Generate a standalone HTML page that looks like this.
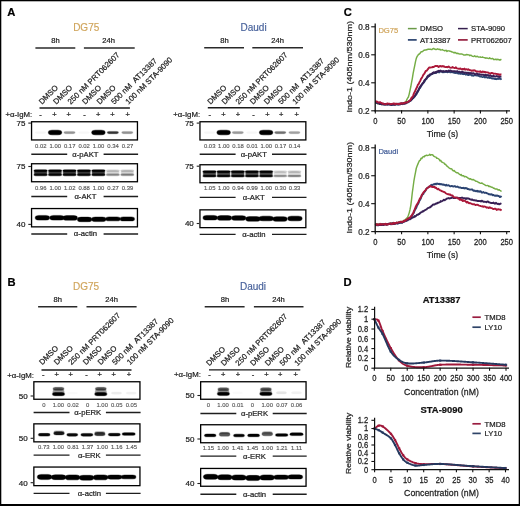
<!DOCTYPE html>
<html><head><meta charset="utf-8"><style>
html,body{margin:0;padding:0;background:#fff;}
svg{display:block;font-family:"Liberation Sans", sans-serif;-webkit-font-smoothing:antialiased;will-change:transform;}
text{stroke:currentColor;stroke-width:0.22px;}
text.v{stroke-width:0.15px;}
</style></head><body>
<svg width="520" height="506" viewBox="0 0 520 506">
<rect width="520" height="506" fill="#fff"/>
<defs><filter id="bl" x="-20%" y="-50%" width="140%" height="200%"><feGaussianBlur stdDeviation="0.8"/></filter></defs>
<text x="7.30" y="15.90" font-size="11.2" text-anchor="start" fill="#000" color="#000" font-weight="bold">A</text>
<text x="7.50" y="286.00" font-size="11.2" text-anchor="start" fill="#000" color="#000" font-weight="bold">B</text>
<text x="343.80" y="15.80" font-size="11.2" text-anchor="start" fill="#000" color="#000" font-weight="bold">C</text>
<text x="343.60" y="285.80" font-size="11.2" text-anchor="start" fill="#000" color="#000" font-weight="bold">D</text>
<text x="86.20" y="31.20" font-size="10.0" text-anchor="middle" fill="#d0a55c" color="#d0a55c" class="v">DG75</text>
<text x="55.40" y="43.10" font-size="7.6" text-anchor="middle" fill="#1e1e1e" color="#1e1e1e">8h</text>
<text x="108.70" y="43.10" font-size="7.6" text-anchor="middle" fill="#1e1e1e" color="#1e1e1e">24h</text>
<line x1="35.40" y1="48.00" x2="75.30" y2="48.00" stroke="#2a2a2a" stroke-width="1.4" stroke-linecap="butt"/>
<line x1="83.90" y1="48.00" x2="134.70" y2="48.00" stroke="#2a2a2a" stroke-width="1.4" stroke-linecap="butt"/>
<text x="41.90" y="104.80" font-size="7.8" text-anchor="start" fill="#1e1e1e" color="#1e1e1e" transform="rotate(-45 41.90 104.80)">DMSO</text>
<text x="56.35" y="104.80" font-size="7.8" text-anchor="start" fill="#1e1e1e" color="#1e1e1e" transform="rotate(-45 56.35 104.80)">DMSO</text>
<text x="70.80" y="104.80" font-size="7.8" text-anchor="start" fill="#1e1e1e" color="#1e1e1e" transform="rotate(-45 70.80 104.80)">250 nM PRT062607</text>
<text x="85.25" y="104.80" font-size="7.8" text-anchor="start" fill="#1e1e1e" color="#1e1e1e" transform="rotate(-45 85.25 104.80)">DMSO</text>
<text x="99.70" y="104.80" font-size="7.8" text-anchor="start" fill="#1e1e1e" color="#1e1e1e" transform="rotate(-45 99.70 104.80)">DMSO</text>
<text x="114.15" y="104.80" font-size="7.8" text-anchor="start" fill="#1e1e1e" color="#1e1e1e" transform="rotate(-45 114.15 104.80)">500 nM&#160;&#160;AT13387</text>
<text x="128.60" y="104.80" font-size="7.8" text-anchor="start" fill="#1e1e1e" color="#1e1e1e" transform="rotate(-45 128.60 104.80)">100 nM STA-9090</text>
<line x1="39.50" y1="108.00" x2="129.90" y2="108.00" stroke="#1a1a1a" stroke-width="1.4" stroke-linecap="butt"/>
<text x="5.40" y="116.80" font-size="7.8" text-anchor="start" fill="#1e1e1e" color="#1e1e1e">+&#945;-IgM:</text>
<text x="40.40" y="116.70" font-size="7.5" text-anchor="middle" fill="#1e1e1e" color="#1e1e1e">-</text>
<text x="54.50" y="116.70" font-size="7.5" text-anchor="middle" fill="#1e1e1e" color="#1e1e1e">+</text>
<text x="68.60" y="116.70" font-size="7.5" text-anchor="middle" fill="#1e1e1e" color="#1e1e1e">+</text>
<text x="84.40" y="116.70" font-size="7.5" text-anchor="middle" fill="#1e1e1e" color="#1e1e1e">-</text>
<text x="98.30" y="116.70" font-size="7.5" text-anchor="middle" fill="#1e1e1e" color="#1e1e1e">+</text>
<text x="112.40" y="116.70" font-size="7.5" text-anchor="middle" fill="#1e1e1e" color="#1e1e1e">+</text>
<text x="127.60" y="116.70" font-size="7.5" text-anchor="middle" fill="#1e1e1e" color="#1e1e1e">+</text>
<g>
<rect x="34.30" y="130.80" width="12.60" height="3.60" rx="2.88" ry="1.80" fill="rgba(0,0,0,0.004)"/>
<rect x="34.65" y="131.15" width="11.90" height="2.90" rx="2.32" ry="1.45" fill="rgba(0,0,0,0.007)"/>
<rect x="35.00" y="131.50" width="11.20" height="2.20" rx="1.76" ry="1.10" fill="rgba(0,0,0,0.025)"/>
<rect x="47.65" y="129.50" width="14.80" height="6.00" rx="4.80" ry="3.00" fill="rgba(0,0,0,0.180)"/>
<rect x="48.00" y="129.85" width="14.10" height="5.30" rx="4.24" ry="2.65" fill="rgba(0,0,0,0.300)"/>
<rect x="48.35" y="130.20" width="13.40" height="4.60" rx="3.68" ry="2.30" fill="rgba(0,0,0,1.000)"/>
<rect x="63.20" y="130.80" width="12.60" height="3.60" rx="2.88" ry="1.80" fill="rgba(0,0,0,0.058)"/>
<rect x="63.55" y="131.15" width="11.90" height="2.90" rx="2.32" ry="1.45" fill="rgba(0,0,0,0.096)"/>
<rect x="63.90" y="131.50" width="11.20" height="2.20" rx="1.76" ry="1.10" fill="rgba(0,0,0,0.320)"/>
<rect x="77.65" y="130.80" width="12.60" height="3.60" rx="2.88" ry="1.80" fill="rgba(0,0,0,0.004)"/>
<rect x="78.00" y="131.15" width="11.90" height="2.90" rx="2.32" ry="1.45" fill="rgba(0,0,0,0.006)"/>
<rect x="78.35" y="131.50" width="11.20" height="2.20" rx="1.76" ry="1.10" fill="rgba(0,0,0,0.020)"/>
<rect x="91.00" y="129.50" width="14.80" height="6.00" rx="4.80" ry="3.00" fill="rgba(0,0,0,0.180)"/>
<rect x="91.35" y="129.85" width="14.10" height="5.30" rx="4.24" ry="2.65" fill="rgba(0,0,0,0.300)"/>
<rect x="91.70" y="130.20" width="13.40" height="4.60" rx="3.68" ry="2.30" fill="rgba(0,0,0,1.000)"/>
<rect x="106.55" y="130.80" width="12.60" height="3.60" rx="2.88" ry="1.80" fill="rgba(0,0,0,0.126)"/>
<rect x="106.90" y="131.15" width="11.90" height="2.90" rx="2.32" ry="1.45" fill="rgba(0,0,0,0.210)"/>
<rect x="107.25" y="131.50" width="11.20" height="2.20" rx="1.76" ry="1.10" fill="rgba(0,0,0,0.700)"/>
<rect x="121.00" y="130.80" width="12.60" height="3.60" rx="2.88" ry="1.80" fill="rgba(0,0,0,0.059)"/>
<rect x="121.35" y="131.15" width="11.90" height="2.90" rx="2.32" ry="1.45" fill="rgba(0,0,0,0.099)"/>
<rect x="121.70" y="131.50" width="11.20" height="2.20" rx="1.76" ry="1.10" fill="rgba(0,0,0,0.330)"/>
</g>
<rect x="31.55" y="121.75" width="105.90" height="18.20" fill="none" stroke="#000" stroke-width="1.3"/>
<text x="25.40" y="125.90" font-size="8.0" text-anchor="end" fill="#222" color="#222">75</text>
<line x1="28.30" y1="123.10" x2="30.90" y2="123.10" stroke="#222" stroke-width="1.1" stroke-linecap="butt"/>
<text x="40.80" y="147.70" font-size="5.9" text-anchor="middle" fill="#5a5a5a" color="#5a5a5a" class="v">0.02</text>
<text x="55.25" y="147.70" font-size="5.9" text-anchor="middle" fill="#5a5a5a" color="#5a5a5a" class="v">1.00</text>
<text x="69.70" y="147.70" font-size="5.9" text-anchor="middle" fill="#5a5a5a" color="#5a5a5a" class="v">0.17</text>
<text x="84.15" y="147.70" font-size="5.9" text-anchor="middle" fill="#5a5a5a" color="#5a5a5a" class="v">0.02</text>
<text x="98.60" y="147.70" font-size="5.9" text-anchor="middle" fill="#5a5a5a" color="#5a5a5a" class="v">1.00</text>
<text x="113.05" y="147.70" font-size="5.9" text-anchor="middle" fill="#5a5a5a" color="#5a5a5a" class="v">0.34</text>
<text x="127.50" y="147.70" font-size="5.9" text-anchor="middle" fill="#5a5a5a" color="#5a5a5a" class="v">0.27</text>
<text x="85.40" y="156.70" font-size="7.7" text-anchor="middle" fill="#1e1e1e" color="#1e1e1e">&#945;-pAKT</text>
<line x1="31.30" y1="154.30" x2="67.20" y2="154.30" stroke="#1e1e1e" stroke-width="1.4" stroke-linecap="butt"/>
<line x1="103.60" y1="154.30" x2="138.10" y2="154.30" stroke="#1e1e1e" stroke-width="1.4" stroke-linecap="butt"/>
<g>
<rect x="33.50" y="169.80" width="14.20" height="6.00" rx="4.80" ry="3.00" fill="rgba(0,0,0,0.113)"/>
<rect x="33.85" y="170.15" width="13.50" height="5.30" rx="4.24" ry="2.65" fill="rgba(0,0,0,0.189)"/>
<rect x="34.20" y="170.50" width="12.80" height="4.60" rx="3.68" ry="2.30" fill="rgba(0,0,0,0.630)"/>
<rect x="33.20" y="169.10" width="14.80" height="3.40" rx="2.72" ry="1.70" fill="rgba(0,0,0,0.180)"/>
<rect x="33.55" y="169.45" width="14.10" height="2.70" rx="2.16" ry="1.35" fill="rgba(0,0,0,0.300)"/>
<rect x="33.90" y="169.80" width="13.40" height="2.00" rx="1.60" ry="1.00" fill="rgba(0,0,0,1.000)"/>
<rect x="33.20" y="173.10" width="14.80" height="3.40" rx="2.72" ry="1.70" fill="rgba(0,0,0,0.162)"/>
<rect x="33.55" y="173.45" width="14.10" height="2.70" rx="2.16" ry="1.35" fill="rgba(0,0,0,0.270)"/>
<rect x="33.90" y="173.80" width="13.40" height="2.00" rx="1.60" ry="1.00" fill="rgba(0,0,0,0.900)"/>
<rect x="47.95" y="169.80" width="14.20" height="6.00" rx="4.80" ry="3.00" fill="rgba(0,0,0,0.113)"/>
<rect x="48.30" y="170.15" width="13.50" height="5.30" rx="4.24" ry="2.65" fill="rgba(0,0,0,0.189)"/>
<rect x="48.65" y="170.50" width="12.80" height="4.60" rx="3.68" ry="2.30" fill="rgba(0,0,0,0.630)"/>
<rect x="47.65" y="169.10" width="14.80" height="3.40" rx="2.72" ry="1.70" fill="rgba(0,0,0,0.180)"/>
<rect x="48.00" y="169.45" width="14.10" height="2.70" rx="2.16" ry="1.35" fill="rgba(0,0,0,0.300)"/>
<rect x="48.35" y="169.80" width="13.40" height="2.00" rx="1.60" ry="1.00" fill="rgba(0,0,0,1.000)"/>
<rect x="47.65" y="173.10" width="14.80" height="3.40" rx="2.72" ry="1.70" fill="rgba(0,0,0,0.162)"/>
<rect x="48.00" y="173.45" width="14.10" height="2.70" rx="2.16" ry="1.35" fill="rgba(0,0,0,0.270)"/>
<rect x="48.35" y="173.80" width="13.40" height="2.00" rx="1.60" ry="1.00" fill="rgba(0,0,0,0.900)"/>
<rect x="62.40" y="169.80" width="14.20" height="6.00" rx="4.80" ry="3.00" fill="rgba(0,0,0,0.113)"/>
<rect x="62.75" y="170.15" width="13.50" height="5.30" rx="4.24" ry="2.65" fill="rgba(0,0,0,0.189)"/>
<rect x="63.10" y="170.50" width="12.80" height="4.60" rx="3.68" ry="2.30" fill="rgba(0,0,0,0.630)"/>
<rect x="62.10" y="169.10" width="14.80" height="3.40" rx="2.72" ry="1.70" fill="rgba(0,0,0,0.180)"/>
<rect x="62.45" y="169.45" width="14.10" height="2.70" rx="2.16" ry="1.35" fill="rgba(0,0,0,0.300)"/>
<rect x="62.80" y="169.80" width="13.40" height="2.00" rx="1.60" ry="1.00" fill="rgba(0,0,0,1.000)"/>
<rect x="62.10" y="173.10" width="14.80" height="3.40" rx="2.72" ry="1.70" fill="rgba(0,0,0,0.162)"/>
<rect x="62.45" y="173.45" width="14.10" height="2.70" rx="2.16" ry="1.35" fill="rgba(0,0,0,0.270)"/>
<rect x="62.80" y="173.80" width="13.40" height="2.00" rx="1.60" ry="1.00" fill="rgba(0,0,0,0.900)"/>
<rect x="76.85" y="169.80" width="14.20" height="6.00" rx="4.80" ry="3.00" fill="rgba(0,0,0,0.113)"/>
<rect x="77.20" y="170.15" width="13.50" height="5.30" rx="4.24" ry="2.65" fill="rgba(0,0,0,0.189)"/>
<rect x="77.55" y="170.50" width="12.80" height="4.60" rx="3.68" ry="2.30" fill="rgba(0,0,0,0.630)"/>
<rect x="76.55" y="169.10" width="14.80" height="3.40" rx="2.72" ry="1.70" fill="rgba(0,0,0,0.180)"/>
<rect x="76.90" y="169.45" width="14.10" height="2.70" rx="2.16" ry="1.35" fill="rgba(0,0,0,0.300)"/>
<rect x="77.25" y="169.80" width="13.40" height="2.00" rx="1.60" ry="1.00" fill="rgba(0,0,0,1.000)"/>
<rect x="76.55" y="173.10" width="14.80" height="3.40" rx="2.72" ry="1.70" fill="rgba(0,0,0,0.162)"/>
<rect x="76.90" y="173.45" width="14.10" height="2.70" rx="2.16" ry="1.35" fill="rgba(0,0,0,0.270)"/>
<rect x="77.25" y="173.80" width="13.40" height="2.00" rx="1.60" ry="1.00" fill="rgba(0,0,0,0.900)"/>
<rect x="91.30" y="169.80" width="14.20" height="6.00" rx="4.80" ry="3.00" fill="rgba(0,0,0,0.113)"/>
<rect x="91.65" y="170.15" width="13.50" height="5.30" rx="4.24" ry="2.65" fill="rgba(0,0,0,0.189)"/>
<rect x="92.00" y="170.50" width="12.80" height="4.60" rx="3.68" ry="2.30" fill="rgba(0,0,0,0.630)"/>
<rect x="91.00" y="169.10" width="14.80" height="3.40" rx="2.72" ry="1.70" fill="rgba(0,0,0,0.180)"/>
<rect x="91.35" y="169.45" width="14.10" height="2.70" rx="2.16" ry="1.35" fill="rgba(0,0,0,0.300)"/>
<rect x="91.70" y="169.80" width="13.40" height="2.00" rx="1.60" ry="1.00" fill="rgba(0,0,0,1.000)"/>
<rect x="91.00" y="173.10" width="14.80" height="3.40" rx="2.72" ry="1.70" fill="rgba(0,0,0,0.162)"/>
<rect x="91.35" y="173.45" width="14.10" height="2.70" rx="2.16" ry="1.35" fill="rgba(0,0,0,0.270)"/>
<rect x="91.70" y="173.80" width="13.40" height="2.00" rx="1.60" ry="1.00" fill="rgba(0,0,0,0.900)"/>
<rect x="105.75" y="169.80" width="14.20" height="6.00" rx="4.80" ry="3.00" fill="rgba(0,0,0,0.018)"/>
<rect x="106.10" y="170.15" width="13.50" height="5.30" rx="4.24" ry="2.65" fill="rgba(0,0,0,0.029)"/>
<rect x="106.45" y="170.50" width="12.80" height="4.60" rx="3.68" ry="2.30" fill="rgba(0,0,0,0.098)"/>
<rect x="105.45" y="169.10" width="14.80" height="3.40" rx="2.72" ry="1.70" fill="rgba(0,0,0,0.025)"/>
<rect x="105.80" y="169.45" width="14.10" height="2.70" rx="2.16" ry="1.35" fill="rgba(0,0,0,0.042)"/>
<rect x="106.15" y="169.80" width="13.40" height="2.00" rx="1.60" ry="1.00" fill="rgba(0,0,0,0.140)"/>
<rect x="105.45" y="173.10" width="14.80" height="3.40" rx="2.72" ry="1.70" fill="rgba(0,0,0,0.054)"/>
<rect x="105.80" y="173.45" width="14.10" height="2.70" rx="2.16" ry="1.35" fill="rgba(0,0,0,0.090)"/>
<rect x="106.15" y="173.80" width="13.40" height="2.00" rx="1.60" ry="1.00" fill="rgba(0,0,0,0.300)"/>
<rect x="120.20" y="169.80" width="14.20" height="6.00" rx="4.80" ry="3.00" fill="rgba(0,0,0,0.019)"/>
<rect x="120.55" y="170.15" width="13.50" height="5.30" rx="4.24" ry="2.65" fill="rgba(0,0,0,0.032)"/>
<rect x="120.90" y="170.50" width="12.80" height="4.60" rx="3.68" ry="2.30" fill="rgba(0,0,0,0.105)"/>
<rect x="119.90" y="169.10" width="14.80" height="3.40" rx="2.72" ry="1.70" fill="rgba(0,0,0,0.027)"/>
<rect x="120.25" y="169.45" width="14.10" height="2.70" rx="2.16" ry="1.35" fill="rgba(0,0,0,0.045)"/>
<rect x="120.60" y="169.80" width="13.40" height="2.00" rx="1.60" ry="1.00" fill="rgba(0,0,0,0.150)"/>
<rect x="119.90" y="173.10" width="14.80" height="3.40" rx="2.72" ry="1.70" fill="rgba(0,0,0,0.059)"/>
<rect x="120.25" y="173.45" width="14.10" height="2.70" rx="2.16" ry="1.35" fill="rgba(0,0,0,0.099)"/>
<rect x="120.60" y="173.80" width="13.40" height="2.00" rx="1.60" ry="1.00" fill="rgba(0,0,0,0.330)"/>
</g>
<rect x="31.55" y="163.75" width="105.90" height="18.00" fill="none" stroke="#000" stroke-width="1.3"/>
<text x="25.40" y="169.30" font-size="8.0" text-anchor="end" fill="#222" color="#222">75</text>
<line x1="28.30" y1="166.50" x2="30.90" y2="166.50" stroke="#222" stroke-width="1.1" stroke-linecap="butt"/>
<text x="40.80" y="189.70" font-size="5.9" text-anchor="middle" fill="#5a5a5a" color="#5a5a5a" class="v">0.96</text>
<text x="55.25" y="189.70" font-size="5.9" text-anchor="middle" fill="#5a5a5a" color="#5a5a5a" class="v">1.00</text>
<text x="69.70" y="189.70" font-size="5.9" text-anchor="middle" fill="#5a5a5a" color="#5a5a5a" class="v">1.02</text>
<text x="84.15" y="189.70" font-size="5.9" text-anchor="middle" fill="#5a5a5a" color="#5a5a5a" class="v">0.88</text>
<text x="98.60" y="189.70" font-size="5.9" text-anchor="middle" fill="#5a5a5a" color="#5a5a5a" class="v">1.00</text>
<text x="113.05" y="189.70" font-size="5.9" text-anchor="middle" fill="#5a5a5a" color="#5a5a5a" class="v">0.27</text>
<text x="127.50" y="189.70" font-size="5.9" text-anchor="middle" fill="#5a5a5a" color="#5a5a5a" class="v">0.39</text>
<text x="85.40" y="198.90" font-size="7.7" text-anchor="middle" fill="#1e1e1e" color="#1e1e1e">&#945;-AKT</text>
<line x1="31.30" y1="196.50" x2="67.20" y2="196.50" stroke="#1e1e1e" stroke-width="1.4" stroke-linecap="butt"/>
<line x1="103.60" y1="196.50" x2="138.10" y2="196.50" stroke="#1e1e1e" stroke-width="1.4" stroke-linecap="butt"/>
<g>
<rect x="34.50" y="214.80" width="15.80" height="6.00" rx="4.80" ry="3.00" fill="rgba(0,0,0,0.180)"/>
<rect x="34.85" y="215.15" width="15.10" height="5.30" rx="4.24" ry="2.65" fill="rgba(0,0,0,0.300)"/>
<rect x="35.20" y="215.50" width="14.40" height="4.60" rx="3.68" ry="2.30" fill="rgba(0,0,0,1.000)"/>
<rect x="49.10" y="214.80" width="15.80" height="6.00" rx="4.80" ry="3.00" fill="rgba(0,0,0,0.180)"/>
<rect x="49.45" y="215.15" width="15.10" height="5.30" rx="4.24" ry="2.65" fill="rgba(0,0,0,0.300)"/>
<rect x="49.80" y="215.50" width="14.40" height="4.60" rx="3.68" ry="2.30" fill="rgba(0,0,0,1.000)"/>
<rect x="62.30" y="214.90" width="15.80" height="6.00" rx="4.80" ry="3.00" fill="rgba(0,0,0,0.180)"/>
<rect x="62.65" y="215.25" width="15.10" height="5.30" rx="4.24" ry="2.65" fill="rgba(0,0,0,0.300)"/>
<rect x="63.00" y="215.60" width="14.40" height="4.60" rx="3.68" ry="2.30" fill="rgba(0,0,0,1.000)"/>
<rect x="76.70" y="216.40" width="15.80" height="6.00" rx="4.80" ry="3.00" fill="rgba(0,0,0,0.180)"/>
<rect x="77.05" y="216.75" width="15.10" height="5.30" rx="4.24" ry="2.65" fill="rgba(0,0,0,0.300)"/>
<rect x="77.40" y="217.10" width="14.40" height="4.60" rx="3.68" ry="2.30" fill="rgba(0,0,0,1.000)"/>
<rect x="90.90" y="216.30" width="15.80" height="6.00" rx="4.80" ry="3.00" fill="rgba(0,0,0,0.180)"/>
<rect x="91.25" y="216.65" width="15.10" height="5.30" rx="4.24" ry="2.65" fill="rgba(0,0,0,0.300)"/>
<rect x="91.60" y="217.00" width="14.40" height="4.60" rx="3.68" ry="2.30" fill="rgba(0,0,0,1.000)"/>
<rect x="105.10" y="216.25" width="15.80" height="5.30" rx="4.24" ry="2.65" fill="rgba(0,0,0,0.180)"/>
<rect x="105.45" y="216.60" width="15.10" height="4.60" rx="3.68" ry="2.30" fill="rgba(0,0,0,0.300)"/>
<rect x="105.80" y="216.95" width="14.40" height="3.90" rx="3.12" ry="1.95" fill="rgba(0,0,0,1.000)"/>
<rect x="119.40" y="216.20" width="15.80" height="5.40" rx="4.32" ry="2.70" fill="rgba(0,0,0,0.180)"/>
<rect x="119.75" y="216.55" width="15.10" height="4.70" rx="3.76" ry="2.35" fill="rgba(0,0,0,0.300)"/>
<rect x="120.10" y="216.90" width="14.40" height="4.00" rx="3.20" ry="2.00" fill="rgba(0,0,0,1.000)"/>
</g>
<rect x="31.55" y="208.55" width="105.90" height="18.30" fill="none" stroke="#000" stroke-width="1.3"/>
<text x="25.40" y="227.20" font-size="8.0" text-anchor="end" fill="#222" color="#222">40</text>
<line x1="28.30" y1="224.40" x2="30.90" y2="224.40" stroke="#222" stroke-width="1.1" stroke-linecap="butt"/>
<text x="85.40" y="236.40" font-size="7.7" text-anchor="middle" fill="#1e1e1e" color="#1e1e1e">&#945;-actin</text>
<line x1="31.30" y1="234.00" x2="67.20" y2="234.00" stroke="#1e1e1e" stroke-width="1.4" stroke-linecap="butt"/>
<line x1="103.60" y1="234.00" x2="138.10" y2="234.00" stroke="#1e1e1e" stroke-width="1.4" stroke-linecap="butt"/>
<text x="253.60" y="30.80" font-size="10.0" text-anchor="middle" fill="#46609a" color="#46609a" class="v">Daudi</text>
<text x="224.50" y="42.80" font-size="7.6" text-anchor="middle" fill="#1e1e1e" color="#1e1e1e">8h</text>
<text x="277.60" y="42.80" font-size="7.6" text-anchor="middle" fill="#1e1e1e" color="#1e1e1e">24h</text>
<line x1="204.20" y1="47.80" x2="244.00" y2="47.80" stroke="#2a2a2a" stroke-width="1.4" stroke-linecap="butt"/>
<line x1="252.30" y1="47.80" x2="303.00" y2="47.80" stroke="#2a2a2a" stroke-width="1.4" stroke-linecap="butt"/>
<text x="210.50" y="104.80" font-size="7.8" text-anchor="start" fill="#1e1e1e" color="#1e1e1e" transform="rotate(-45 210.50 104.80)">DMSO</text>
<text x="224.65" y="104.80" font-size="7.8" text-anchor="start" fill="#1e1e1e" color="#1e1e1e" transform="rotate(-45 224.65 104.80)">DMSO</text>
<text x="238.80" y="104.80" font-size="7.8" text-anchor="start" fill="#1e1e1e" color="#1e1e1e" transform="rotate(-45 238.80 104.80)">250 nM PRT062607</text>
<text x="252.95" y="104.80" font-size="7.8" text-anchor="start" fill="#1e1e1e" color="#1e1e1e" transform="rotate(-45 252.95 104.80)">DMSO</text>
<text x="267.10" y="104.80" font-size="7.8" text-anchor="start" fill="#1e1e1e" color="#1e1e1e" transform="rotate(-45 267.10 104.80)">DMSO</text>
<text x="281.25" y="104.80" font-size="7.8" text-anchor="start" fill="#1e1e1e" color="#1e1e1e" transform="rotate(-45 281.25 104.80)">500 nM&#160;&#160;AT13387</text>
<text x="295.40" y="104.80" font-size="7.8" text-anchor="start" fill="#1e1e1e" color="#1e1e1e" transform="rotate(-45 295.40 104.80)">100 nM STA-9090</text>
<line x1="207.80" y1="107.80" x2="299.80" y2="107.80" stroke="#1a1a1a" stroke-width="1.4" stroke-linecap="butt"/>
<text x="173.30" y="116.80" font-size="7.8" text-anchor="start" fill="#1e1e1e" color="#1e1e1e">+&#945;-IgM:</text>
<text x="209.80" y="116.70" font-size="7.5" text-anchor="middle" fill="#1e1e1e" color="#1e1e1e">-</text>
<text x="223.50" y="116.70" font-size="7.5" text-anchor="middle" fill="#1e1e1e" color="#1e1e1e">+</text>
<text x="237.90" y="116.70" font-size="7.5" text-anchor="middle" fill="#1e1e1e" color="#1e1e1e">+</text>
<text x="253.60" y="116.70" font-size="7.5" text-anchor="middle" fill="#1e1e1e" color="#1e1e1e">-</text>
<text x="267.40" y="116.70" font-size="7.5" text-anchor="middle" fill="#1e1e1e" color="#1e1e1e">+</text>
<text x="281.20" y="116.70" font-size="7.5" text-anchor="middle" fill="#1e1e1e" color="#1e1e1e">+</text>
<text x="296.60" y="116.70" font-size="7.5" text-anchor="middle" fill="#1e1e1e" color="#1e1e1e">+</text>
<g>
<rect x="203.20" y="130.80" width="12.60" height="3.60" rx="2.88" ry="1.80" fill="rgba(0,0,0,0.004)"/>
<rect x="203.55" y="131.15" width="11.90" height="2.90" rx="2.32" ry="1.45" fill="rgba(0,0,0,0.007)"/>
<rect x="203.90" y="131.50" width="11.20" height="2.20" rx="1.76" ry="1.10" fill="rgba(0,0,0,0.025)"/>
<rect x="216.25" y="129.50" width="14.80" height="6.00" rx="4.80" ry="3.00" fill="rgba(0,0,0,0.180)"/>
<rect x="216.60" y="129.85" width="14.10" height="5.30" rx="4.24" ry="2.65" fill="rgba(0,0,0,0.300)"/>
<rect x="216.95" y="130.20" width="13.40" height="4.60" rx="3.68" ry="2.30" fill="rgba(0,0,0,1.000)"/>
<rect x="231.50" y="130.80" width="12.60" height="3.60" rx="2.88" ry="1.80" fill="rgba(0,0,0,0.054)"/>
<rect x="231.85" y="131.15" width="11.90" height="2.90" rx="2.32" ry="1.45" fill="rgba(0,0,0,0.090)"/>
<rect x="232.20" y="131.50" width="11.20" height="2.20" rx="1.76" ry="1.10" fill="rgba(0,0,0,0.300)"/>
<rect x="245.65" y="130.80" width="12.60" height="3.60" rx="2.88" ry="1.80" fill="rgba(0,0,0,0.004)"/>
<rect x="246.00" y="131.15" width="11.90" height="2.90" rx="2.32" ry="1.45" fill="rgba(0,0,0,0.007)"/>
<rect x="246.35" y="131.50" width="11.20" height="2.20" rx="1.76" ry="1.10" fill="rgba(0,0,0,0.025)"/>
<rect x="258.70" y="129.50" width="14.80" height="6.00" rx="4.80" ry="3.00" fill="rgba(0,0,0,0.180)"/>
<rect x="259.05" y="129.85" width="14.10" height="5.30" rx="4.24" ry="2.65" fill="rgba(0,0,0,0.300)"/>
<rect x="259.40" y="130.20" width="13.40" height="4.60" rx="3.68" ry="2.30" fill="rgba(0,0,0,1.000)"/>
<rect x="273.95" y="130.80" width="12.60" height="3.60" rx="2.88" ry="1.80" fill="rgba(0,0,0,0.081)"/>
<rect x="274.30" y="131.15" width="11.90" height="2.90" rx="2.32" ry="1.45" fill="rgba(0,0,0,0.135)"/>
<rect x="274.65" y="131.50" width="11.20" height="2.20" rx="1.76" ry="1.10" fill="rgba(0,0,0,0.450)"/>
<rect x="288.10" y="130.80" width="12.60" height="3.60" rx="2.88" ry="1.80" fill="rgba(0,0,0,0.050)"/>
<rect x="288.45" y="131.15" width="11.90" height="2.90" rx="2.32" ry="1.45" fill="rgba(0,0,0,0.084)"/>
<rect x="288.80" y="131.50" width="11.20" height="2.20" rx="1.76" ry="1.10" fill="rgba(0,0,0,0.280)"/>
</g>
<rect x="199.95" y="121.75" width="105.90" height="18.20" fill="none" stroke="#000" stroke-width="1.3"/>
<text x="193.80" y="125.90" font-size="8.0" text-anchor="end" fill="#222" color="#222">75</text>
<line x1="196.70" y1="123.10" x2="199.30" y2="123.10" stroke="#222" stroke-width="1.1" stroke-linecap="butt"/>
<text x="209.70" y="147.70" font-size="5.9" text-anchor="middle" fill="#5a5a5a" color="#5a5a5a" class="v">0.03</text>
<text x="223.85" y="147.70" font-size="5.9" text-anchor="middle" fill="#5a5a5a" color="#5a5a5a" class="v">1.00</text>
<text x="238.00" y="147.70" font-size="5.9" text-anchor="middle" fill="#5a5a5a" color="#5a5a5a" class="v">0.18</text>
<text x="252.15" y="147.70" font-size="5.9" text-anchor="middle" fill="#5a5a5a" color="#5a5a5a" class="v">0.01</text>
<text x="266.30" y="147.70" font-size="5.9" text-anchor="middle" fill="#5a5a5a" color="#5a5a5a" class="v">1.00</text>
<text x="280.45" y="147.70" font-size="5.9" text-anchor="middle" fill="#5a5a5a" color="#5a5a5a" class="v">0.17</text>
<text x="294.60" y="147.70" font-size="5.9" text-anchor="middle" fill="#5a5a5a" color="#5a5a5a" class="v">0.14</text>
<text x="253.80" y="156.60" font-size="7.7" text-anchor="middle" fill="#1e1e1e" color="#1e1e1e">&#945;-pAKT</text>
<line x1="199.70" y1="154.20" x2="235.60" y2="154.20" stroke="#1e1e1e" stroke-width="1.4" stroke-linecap="butt"/>
<line x1="272.00" y1="154.20" x2="306.50" y2="154.20" stroke="#1e1e1e" stroke-width="1.4" stroke-linecap="butt"/>
<g>
<rect x="202.40" y="170.70" width="14.20" height="6.40" rx="5.12" ry="3.20" fill="rgba(0,0,0,0.107)"/>
<rect x="202.75" y="171.05" width="13.50" height="5.70" rx="4.56" ry="2.85" fill="rgba(0,0,0,0.178)"/>
<rect x="203.10" y="171.40" width="12.80" height="5.00" rx="4.00" ry="2.50" fill="rgba(0,0,0,0.595)"/>
<rect x="202.10" y="170.00" width="14.80" height="3.40" rx="2.72" ry="1.70" fill="rgba(0,0,0,0.180)"/>
<rect x="202.45" y="170.35" width="14.10" height="2.70" rx="2.16" ry="1.35" fill="rgba(0,0,0,0.300)"/>
<rect x="202.80" y="170.70" width="13.40" height="2.00" rx="1.60" ry="1.00" fill="rgba(0,0,0,1.000)"/>
<rect x="202.10" y="174.40" width="14.80" height="3.40" rx="2.72" ry="1.70" fill="rgba(0,0,0,0.153)"/>
<rect x="202.45" y="174.75" width="14.10" height="2.70" rx="2.16" ry="1.35" fill="rgba(0,0,0,0.255)"/>
<rect x="202.80" y="175.10" width="13.40" height="2.00" rx="1.60" ry="1.00" fill="rgba(0,0,0,0.850)"/>
<rect x="216.55" y="170.70" width="14.20" height="6.40" rx="5.12" ry="3.20" fill="rgba(0,0,0,0.107)"/>
<rect x="216.90" y="171.05" width="13.50" height="5.70" rx="4.56" ry="2.85" fill="rgba(0,0,0,0.178)"/>
<rect x="217.25" y="171.40" width="12.80" height="5.00" rx="4.00" ry="2.50" fill="rgba(0,0,0,0.595)"/>
<rect x="216.25" y="170.00" width="14.80" height="3.40" rx="2.72" ry="1.70" fill="rgba(0,0,0,0.180)"/>
<rect x="216.60" y="170.35" width="14.10" height="2.70" rx="2.16" ry="1.35" fill="rgba(0,0,0,0.300)"/>
<rect x="216.95" y="170.70" width="13.40" height="2.00" rx="1.60" ry="1.00" fill="rgba(0,0,0,1.000)"/>
<rect x="216.25" y="174.40" width="14.80" height="3.40" rx="2.72" ry="1.70" fill="rgba(0,0,0,0.153)"/>
<rect x="216.60" y="174.75" width="14.10" height="2.70" rx="2.16" ry="1.35" fill="rgba(0,0,0,0.255)"/>
<rect x="216.95" y="175.10" width="13.40" height="2.00" rx="1.60" ry="1.00" fill="rgba(0,0,0,0.850)"/>
<rect x="230.70" y="170.70" width="14.20" height="6.40" rx="5.12" ry="3.20" fill="rgba(0,0,0,0.107)"/>
<rect x="231.05" y="171.05" width="13.50" height="5.70" rx="4.56" ry="2.85" fill="rgba(0,0,0,0.178)"/>
<rect x="231.40" y="171.40" width="12.80" height="5.00" rx="4.00" ry="2.50" fill="rgba(0,0,0,0.595)"/>
<rect x="230.40" y="170.00" width="14.80" height="3.40" rx="2.72" ry="1.70" fill="rgba(0,0,0,0.180)"/>
<rect x="230.75" y="170.35" width="14.10" height="2.70" rx="2.16" ry="1.35" fill="rgba(0,0,0,0.300)"/>
<rect x="231.10" y="170.70" width="13.40" height="2.00" rx="1.60" ry="1.00" fill="rgba(0,0,0,1.000)"/>
<rect x="230.40" y="174.40" width="14.80" height="3.40" rx="2.72" ry="1.70" fill="rgba(0,0,0,0.153)"/>
<rect x="230.75" y="174.75" width="14.10" height="2.70" rx="2.16" ry="1.35" fill="rgba(0,0,0,0.255)"/>
<rect x="231.10" y="175.10" width="13.40" height="2.00" rx="1.60" ry="1.00" fill="rgba(0,0,0,0.850)"/>
<rect x="244.85" y="170.70" width="14.20" height="6.40" rx="5.12" ry="3.20" fill="rgba(0,0,0,0.107)"/>
<rect x="245.20" y="171.05" width="13.50" height="5.70" rx="4.56" ry="2.85" fill="rgba(0,0,0,0.178)"/>
<rect x="245.55" y="171.40" width="12.80" height="5.00" rx="4.00" ry="2.50" fill="rgba(0,0,0,0.595)"/>
<rect x="244.55" y="170.00" width="14.80" height="3.40" rx="2.72" ry="1.70" fill="rgba(0,0,0,0.180)"/>
<rect x="244.90" y="170.35" width="14.10" height="2.70" rx="2.16" ry="1.35" fill="rgba(0,0,0,0.300)"/>
<rect x="245.25" y="170.70" width="13.40" height="2.00" rx="1.60" ry="1.00" fill="rgba(0,0,0,1.000)"/>
<rect x="244.55" y="174.40" width="14.80" height="3.40" rx="2.72" ry="1.70" fill="rgba(0,0,0,0.153)"/>
<rect x="244.90" y="174.75" width="14.10" height="2.70" rx="2.16" ry="1.35" fill="rgba(0,0,0,0.255)"/>
<rect x="245.25" y="175.10" width="13.40" height="2.00" rx="1.60" ry="1.00" fill="rgba(0,0,0,0.850)"/>
<rect x="259.00" y="170.70" width="14.20" height="6.40" rx="5.12" ry="3.20" fill="rgba(0,0,0,0.107)"/>
<rect x="259.35" y="171.05" width="13.50" height="5.70" rx="4.56" ry="2.85" fill="rgba(0,0,0,0.178)"/>
<rect x="259.70" y="171.40" width="12.80" height="5.00" rx="4.00" ry="2.50" fill="rgba(0,0,0,0.595)"/>
<rect x="258.70" y="170.00" width="14.80" height="3.40" rx="2.72" ry="1.70" fill="rgba(0,0,0,0.180)"/>
<rect x="259.05" y="170.35" width="14.10" height="2.70" rx="2.16" ry="1.35" fill="rgba(0,0,0,0.300)"/>
<rect x="259.40" y="170.70" width="13.40" height="2.00" rx="1.60" ry="1.00" fill="rgba(0,0,0,1.000)"/>
<rect x="258.70" y="174.40" width="14.80" height="3.40" rx="2.72" ry="1.70" fill="rgba(0,0,0,0.153)"/>
<rect x="259.05" y="174.75" width="14.10" height="2.70" rx="2.16" ry="1.35" fill="rgba(0,0,0,0.255)"/>
<rect x="259.40" y="175.10" width="13.40" height="2.00" rx="1.60" ry="1.00" fill="rgba(0,0,0,0.850)"/>
<rect x="273.15" y="170.70" width="14.20" height="6.40" rx="5.12" ry="3.20" fill="rgba(0,0,0,0.015)"/>
<rect x="273.50" y="171.05" width="13.50" height="5.70" rx="4.56" ry="2.85" fill="rgba(0,0,0,0.025)"/>
<rect x="273.85" y="171.40" width="12.80" height="5.00" rx="4.00" ry="2.50" fill="rgba(0,0,0,0.084)"/>
<rect x="272.85" y="170.00" width="14.80" height="3.40" rx="2.72" ry="1.70" fill="rgba(0,0,0,0.022)"/>
<rect x="273.20" y="170.35" width="14.10" height="2.70" rx="2.16" ry="1.35" fill="rgba(0,0,0,0.036)"/>
<rect x="273.55" y="170.70" width="13.40" height="2.00" rx="1.60" ry="1.00" fill="rgba(0,0,0,0.120)"/>
<rect x="272.85" y="174.40" width="14.80" height="3.40" rx="2.72" ry="1.70" fill="rgba(0,0,0,0.049)"/>
<rect x="273.20" y="174.75" width="14.10" height="2.70" rx="2.16" ry="1.35" fill="rgba(0,0,0,0.081)"/>
<rect x="273.55" y="175.10" width="13.40" height="2.00" rx="1.60" ry="1.00" fill="rgba(0,0,0,0.270)"/>
<rect x="287.30" y="170.70" width="14.20" height="6.40" rx="5.12" ry="3.20" fill="rgba(0,0,0,0.018)"/>
<rect x="287.65" y="171.05" width="13.50" height="5.70" rx="4.56" ry="2.85" fill="rgba(0,0,0,0.029)"/>
<rect x="288.00" y="171.40" width="12.80" height="5.00" rx="4.00" ry="2.50" fill="rgba(0,0,0,0.098)"/>
<rect x="287.00" y="170.00" width="14.80" height="3.40" rx="2.72" ry="1.70" fill="rgba(0,0,0,0.025)"/>
<rect x="287.35" y="170.35" width="14.10" height="2.70" rx="2.16" ry="1.35" fill="rgba(0,0,0,0.042)"/>
<rect x="287.70" y="170.70" width="13.40" height="2.00" rx="1.60" ry="1.00" fill="rgba(0,0,0,0.140)"/>
<rect x="287.00" y="174.40" width="14.80" height="3.40" rx="2.72" ry="1.70" fill="rgba(0,0,0,0.054)"/>
<rect x="287.35" y="174.75" width="14.10" height="2.70" rx="2.16" ry="1.35" fill="rgba(0,0,0,0.090)"/>
<rect x="287.70" y="175.10" width="13.40" height="2.00" rx="1.60" ry="1.00" fill="rgba(0,0,0,0.300)"/>
</g>
<rect x="199.95" y="164.75" width="105.90" height="18.00" fill="none" stroke="#000" stroke-width="1.3"/>
<text x="193.80" y="169.00" font-size="8.0" text-anchor="end" fill="#222" color="#222">75</text>
<line x1="196.70" y1="166.20" x2="199.30" y2="166.20" stroke="#222" stroke-width="1.1" stroke-linecap="butt"/>
<text x="209.70" y="190.10" font-size="5.9" text-anchor="middle" fill="#5a5a5a" color="#5a5a5a" class="v">1.05</text>
<text x="223.85" y="190.10" font-size="5.9" text-anchor="middle" fill="#5a5a5a" color="#5a5a5a" class="v">1.00</text>
<text x="238.00" y="190.10" font-size="5.9" text-anchor="middle" fill="#5a5a5a" color="#5a5a5a" class="v">0.94</text>
<text x="252.15" y="190.10" font-size="5.9" text-anchor="middle" fill="#5a5a5a" color="#5a5a5a" class="v">0.99</text>
<text x="266.30" y="190.10" font-size="5.9" text-anchor="middle" fill="#5a5a5a" color="#5a5a5a" class="v">1.00</text>
<text x="280.45" y="190.10" font-size="5.9" text-anchor="middle" fill="#5a5a5a" color="#5a5a5a" class="v">0.30</text>
<text x="294.60" y="190.10" font-size="5.9" text-anchor="middle" fill="#5a5a5a" color="#5a5a5a" class="v">0.33</text>
<text x="253.80" y="199.80" font-size="7.7" text-anchor="middle" fill="#1e1e1e" color="#1e1e1e">&#945;-AKT</text>
<line x1="199.70" y1="197.40" x2="235.60" y2="197.40" stroke="#1e1e1e" stroke-width="1.4" stroke-linecap="butt"/>
<line x1="272.00" y1="197.40" x2="306.50" y2="197.40" stroke="#1e1e1e" stroke-width="1.4" stroke-linecap="butt"/>
<g>
<rect x="202.30" y="214.70" width="15.80" height="6.00" rx="4.80" ry="3.00" fill="rgba(0,0,0,0.180)"/>
<rect x="202.65" y="215.05" width="15.10" height="5.30" rx="4.24" ry="2.65" fill="rgba(0,0,0,0.300)"/>
<rect x="203.00" y="215.40" width="14.40" height="4.60" rx="3.68" ry="2.30" fill="rgba(0,0,0,1.000)"/>
<rect x="216.50" y="214.90" width="15.80" height="6.00" rx="4.80" ry="3.00" fill="rgba(0,0,0,0.180)"/>
<rect x="216.85" y="215.25" width="15.10" height="5.30" rx="4.24" ry="2.65" fill="rgba(0,0,0,0.300)"/>
<rect x="217.20" y="215.60" width="14.40" height="4.60" rx="3.68" ry="2.30" fill="rgba(0,0,0,1.000)"/>
<rect x="230.80" y="215.00" width="15.80" height="6.00" rx="4.80" ry="3.00" fill="rgba(0,0,0,0.180)"/>
<rect x="231.15" y="215.35" width="15.10" height="5.30" rx="4.24" ry="2.65" fill="rgba(0,0,0,0.300)"/>
<rect x="231.50" y="215.70" width="14.40" height="4.60" rx="3.68" ry="2.30" fill="rgba(0,0,0,1.000)"/>
<rect x="245.10" y="215.90" width="15.80" height="6.00" rx="4.80" ry="3.00" fill="rgba(0,0,0,0.180)"/>
<rect x="245.45" y="216.25" width="15.10" height="5.30" rx="4.24" ry="2.65" fill="rgba(0,0,0,0.300)"/>
<rect x="245.80" y="216.60" width="14.40" height="4.60" rx="3.68" ry="2.30" fill="rgba(0,0,0,1.000)"/>
<rect x="258.30" y="215.50" width="15.80" height="6.00" rx="4.80" ry="3.00" fill="rgba(0,0,0,0.180)"/>
<rect x="258.65" y="215.85" width="15.10" height="5.30" rx="4.24" ry="2.65" fill="rgba(0,0,0,0.300)"/>
<rect x="259.00" y="216.20" width="14.40" height="4.60" rx="3.68" ry="2.30" fill="rgba(0,0,0,1.000)"/>
<rect x="272.10" y="216.00" width="15.80" height="6.00" rx="4.80" ry="3.00" fill="rgba(0,0,0,0.180)"/>
<rect x="272.45" y="216.35" width="15.10" height="5.30" rx="4.24" ry="2.65" fill="rgba(0,0,0,0.300)"/>
<rect x="272.80" y="216.70" width="14.40" height="4.60" rx="3.68" ry="2.30" fill="rgba(0,0,0,1.000)"/>
<rect x="287.00" y="215.50" width="15.80" height="6.00" rx="4.80" ry="3.00" fill="rgba(0,0,0,0.180)"/>
<rect x="287.35" y="215.85" width="15.10" height="5.30" rx="4.24" ry="2.65" fill="rgba(0,0,0,0.300)"/>
<rect x="287.70" y="216.20" width="14.40" height="4.60" rx="3.68" ry="2.30" fill="rgba(0,0,0,1.000)"/>
</g>
<rect x="199.95" y="209.85" width="105.90" height="17.80" fill="none" stroke="#000" stroke-width="1.3"/>
<text x="193.80" y="226.30" font-size="8.0" text-anchor="end" fill="#222" color="#222">40</text>
<line x1="196.70" y1="223.50" x2="199.30" y2="223.50" stroke="#222" stroke-width="1.1" stroke-linecap="butt"/>
<text x="253.80" y="236.80" font-size="7.7" text-anchor="middle" fill="#1e1e1e" color="#1e1e1e">&#945;-actin</text>
<line x1="199.70" y1="234.40" x2="235.60" y2="234.40" stroke="#1e1e1e" stroke-width="1.4" stroke-linecap="butt"/>
<line x1="272.00" y1="234.40" x2="306.50" y2="234.40" stroke="#1e1e1e" stroke-width="1.4" stroke-linecap="butt"/>
<text x="86.10" y="290.00" font-size="10.0" text-anchor="middle" fill="#d0a55c" color="#d0a55c" class="v">DG75</text>
<text x="57.70" y="301.90" font-size="7.6" text-anchor="middle" fill="#1e1e1e" color="#1e1e1e">8h</text>
<text x="111.60" y="301.90" font-size="7.6" text-anchor="middle" fill="#1e1e1e" color="#1e1e1e">24h</text>
<line x1="38.10" y1="306.80" x2="77.30" y2="306.80" stroke="#2a2a2a" stroke-width="1.4" stroke-linecap="butt"/>
<line x1="86.50" y1="306.80" x2="136.60" y2="306.80" stroke="#2a2a2a" stroke-width="1.4" stroke-linecap="butt"/>
<text x="42.30" y="365.30" font-size="7.8" text-anchor="start" fill="#1e1e1e" color="#1e1e1e" transform="rotate(-45 42.30 365.30)">DMSO</text>
<text x="56.90" y="365.30" font-size="7.8" text-anchor="start" fill="#1e1e1e" color="#1e1e1e" transform="rotate(-45 56.90 365.30)">DMSO</text>
<text x="71.50" y="365.30" font-size="7.8" text-anchor="start" fill="#1e1e1e" color="#1e1e1e" transform="rotate(-45 71.50 365.30)">250 nM PRT062607</text>
<text x="86.10" y="365.30" font-size="7.8" text-anchor="start" fill="#1e1e1e" color="#1e1e1e" transform="rotate(-45 86.10 365.30)">DMSO</text>
<text x="100.70" y="365.30" font-size="7.8" text-anchor="start" fill="#1e1e1e" color="#1e1e1e" transform="rotate(-45 100.70 365.30)">DMSO</text>
<text x="115.30" y="365.30" font-size="7.8" text-anchor="start" fill="#1e1e1e" color="#1e1e1e" transform="rotate(-45 115.30 365.30)">500 nM&#160;&#160;AT13387</text>
<text x="129.90" y="365.30" font-size="7.8" text-anchor="start" fill="#1e1e1e" color="#1e1e1e" transform="rotate(-45 129.90 365.30)">100 nM STA-9090</text>
<line x1="41.50" y1="370.00" x2="131.50" y2="370.00" stroke="#1a1a1a" stroke-width="1.4" stroke-linecap="butt"/>
<text x="7.20" y="377.50" font-size="7.8" text-anchor="start" fill="#1e1e1e" color="#1e1e1e">+&#945;-IgM:</text>
<text x="43.30" y="377.40" font-size="7.5" text-anchor="middle" fill="#1e1e1e" color="#1e1e1e">-</text>
<text x="56.60" y="377.40" font-size="7.5" text-anchor="middle" fill="#1e1e1e" color="#1e1e1e">+</text>
<text x="70.60" y="377.40" font-size="7.5" text-anchor="middle" fill="#1e1e1e" color="#1e1e1e">+</text>
<text x="86.40" y="377.40" font-size="7.5" text-anchor="middle" fill="#1e1e1e" color="#1e1e1e">-</text>
<text x="99.60" y="377.40" font-size="7.5" text-anchor="middle" fill="#1e1e1e" color="#1e1e1e">+</text>
<text x="113.60" y="377.40" font-size="7.5" text-anchor="middle" fill="#1e1e1e" color="#1e1e1e">+</text>
<text x="128.90" y="377.40" font-size="7.5" text-anchor="middle" fill="#1e1e1e" color="#1e1e1e">+</text>
<g>
<rect x="52.10" y="388.05" width="12.80" height="7.20" rx="5.76" ry="3.60" fill="rgba(0,0,0,0.050)"/>
<rect x="52.45" y="388.40" width="12.10" height="6.50" rx="5.20" ry="3.25" fill="rgba(0,0,0,0.084)"/>
<rect x="52.80" y="388.75" width="11.40" height="5.80" rx="4.64" ry="2.90" fill="rgba(0,0,0,0.280)"/>
<rect x="52.30" y="386.60" width="12.40" height="4.40" rx="3.52" ry="2.20" fill="rgba(0,0,0,0.099)"/>
<rect x="52.65" y="386.95" width="11.70" height="3.70" rx="2.96" ry="1.85" fill="rgba(0,0,0,0.165)"/>
<rect x="53.00" y="387.30" width="11.00" height="3.00" rx="2.40" ry="1.50" fill="rgba(0,0,0,0.550)"/>
<rect x="51.70" y="391.75" width="13.60" height="4.70" rx="3.76" ry="2.35" fill="rgba(0,0,0,0.180)"/>
<rect x="52.05" y="392.10" width="12.90" height="4.00" rx="3.20" ry="2.00" fill="rgba(0,0,0,0.300)"/>
<rect x="52.40" y="392.45" width="12.20" height="3.30" rx="2.64" ry="1.65" fill="rgba(0,0,0,1.000)"/>
<rect x="66.60" y="391.20" width="11.80" height="3.80" rx="3.04" ry="1.90" fill="rgba(0,0,0,0.002)"/>
<rect x="66.95" y="391.55" width="11.10" height="3.10" rx="2.48" ry="1.55" fill="rgba(0,0,0,0.004)"/>
<rect x="67.30" y="391.90" width="10.40" height="2.40" rx="1.92" ry="1.20" fill="rgba(0,0,0,0.012)"/>
<rect x="94.40" y="388.05" width="12.80" height="7.20" rx="5.76" ry="3.60" fill="rgba(0,0,0,0.050)"/>
<rect x="94.75" y="388.40" width="12.10" height="6.50" rx="5.20" ry="3.25" fill="rgba(0,0,0,0.084)"/>
<rect x="95.10" y="388.75" width="11.40" height="5.80" rx="4.64" ry="2.90" fill="rgba(0,0,0,0.280)"/>
<rect x="94.60" y="386.60" width="12.40" height="4.40" rx="3.52" ry="2.20" fill="rgba(0,0,0,0.099)"/>
<rect x="94.95" y="386.95" width="11.70" height="3.70" rx="2.96" ry="1.85" fill="rgba(0,0,0,0.165)"/>
<rect x="95.30" y="387.30" width="11.00" height="3.00" rx="2.40" ry="1.50" fill="rgba(0,0,0,0.550)"/>
<rect x="94.00" y="391.75" width="13.60" height="4.70" rx="3.76" ry="2.35" fill="rgba(0,0,0,0.180)"/>
<rect x="94.35" y="392.10" width="12.90" height="4.00" rx="3.20" ry="2.00" fill="rgba(0,0,0,0.300)"/>
<rect x="94.70" y="392.45" width="12.20" height="3.30" rx="2.64" ry="1.65" fill="rgba(0,0,0,1.000)"/>
<rect x="110.60" y="391.20" width="11.80" height="3.80" rx="3.04" ry="1.90" fill="rgba(0,0,0,0.009)"/>
<rect x="110.95" y="391.55" width="11.10" height="3.10" rx="2.48" ry="1.55" fill="rgba(0,0,0,0.015)"/>
<rect x="111.30" y="391.90" width="10.40" height="2.40" rx="1.92" ry="1.20" fill="rgba(0,0,0,0.050)"/>
<rect x="125.30" y="391.20" width="11.80" height="3.80" rx="3.04" ry="1.90" fill="rgba(0,0,0,0.006)"/>
<rect x="125.65" y="391.55" width="11.10" height="3.10" rx="2.48" ry="1.55" fill="rgba(0,0,0,0.011)"/>
<rect x="126.00" y="391.90" width="10.40" height="2.40" rx="1.92" ry="1.20" fill="rgba(0,0,0,0.035)"/>
</g>
<rect x="33.85" y="381.75" width="106.10" height="17.50" fill="none" stroke="#000" stroke-width="1.3"/>
<text x="27.70" y="398.80" font-size="8.0" text-anchor="end" fill="#222" color="#222">50</text>
<line x1="30.60" y1="396.00" x2="33.20" y2="396.00" stroke="#222" stroke-width="1.1" stroke-linecap="butt"/>
<text x="43.80" y="406.90" font-size="5.9" text-anchor="middle" fill="#5a5a5a" color="#5a5a5a" class="v">0</text>
<text x="58.40" y="406.90" font-size="5.9" text-anchor="middle" fill="#5a5a5a" color="#5a5a5a" class="v">1.00</text>
<text x="73.00" y="406.90" font-size="5.9" text-anchor="middle" fill="#5a5a5a" color="#5a5a5a" class="v">0.02</text>
<text x="87.60" y="406.90" font-size="5.9" text-anchor="middle" fill="#5a5a5a" color="#5a5a5a" class="v">0</text>
<text x="102.20" y="406.90" font-size="5.9" text-anchor="middle" fill="#5a5a5a" color="#5a5a5a" class="v">1.00</text>
<text x="116.80" y="406.90" font-size="5.9" text-anchor="middle" fill="#5a5a5a" color="#5a5a5a" class="v">0.05</text>
<text x="131.40" y="406.90" font-size="5.9" text-anchor="middle" fill="#5a5a5a" color="#5a5a5a" class="v">0.05</text>
<text x="87.70" y="414.90" font-size="7.7" text-anchor="middle" fill="#1e1e1e" color="#1e1e1e">&#945;-pERK</text>
<line x1="33.60" y1="412.50" x2="69.50" y2="412.50" stroke="#1e1e1e" stroke-width="1.4" stroke-linecap="butt"/>
<line x1="105.90" y1="412.50" x2="140.60" y2="412.50" stroke="#1e1e1e" stroke-width="1.4" stroke-linecap="butt"/>
<g>
<rect x="37.70" y="432.65" width="13.00" height="4.10" rx="3.28" ry="2.05" fill="rgba(0,0,0,0.171)"/>
<rect x="38.05" y="433.00" width="12.30" height="3.40" rx="2.72" ry="1.70" fill="rgba(0,0,0,0.285)"/>
<rect x="38.40" y="433.35" width="11.60" height="2.70" rx="2.16" ry="1.35" fill="rgba(0,0,0,0.950)"/>
<rect x="53.35" y="430.15" width="11.30" height="3.30" rx="2.64" ry="1.65" fill="rgba(0,0,0,0.045)"/>
<rect x="53.70" y="430.50" width="10.60" height="2.60" rx="2.08" ry="1.30" fill="rgba(0,0,0,0.075)"/>
<rect x="54.05" y="430.85" width="9.90" height="1.90" rx="1.52" ry="0.95" fill="rgba(0,0,0,0.250)"/>
<rect x="53.00" y="431.00" width="12.00" height="4.60" rx="3.68" ry="2.30" fill="rgba(0,0,0,0.153)"/>
<rect x="53.35" y="431.35" width="11.30" height="3.90" rx="3.12" ry="1.95" fill="rgba(0,0,0,0.255)"/>
<rect x="53.70" y="431.70" width="10.60" height="3.20" rx="2.56" ry="1.60" fill="rgba(0,0,0,0.850)"/>
<rect x="66.15" y="432.75" width="12.30" height="4.10" rx="3.28" ry="2.05" fill="rgba(0,0,0,0.171)"/>
<rect x="66.50" y="433.10" width="11.60" height="3.40" rx="2.72" ry="1.70" fill="rgba(0,0,0,0.285)"/>
<rect x="66.85" y="433.45" width="10.90" height="2.70" rx="2.16" ry="1.35" fill="rgba(0,0,0,0.950)"/>
<rect x="80.20" y="432.75" width="13.40" height="4.10" rx="3.28" ry="2.05" fill="rgba(0,0,0,0.171)"/>
<rect x="80.55" y="433.10" width="12.70" height="3.40" rx="2.72" ry="1.70" fill="rgba(0,0,0,0.285)"/>
<rect x="80.90" y="433.45" width="12.00" height="2.70" rx="2.16" ry="1.35" fill="rgba(0,0,0,0.950)"/>
<rect x="94.15" y="430.85" width="11.30" height="3.30" rx="2.64" ry="1.65" fill="rgba(0,0,0,0.045)"/>
<rect x="94.50" y="431.20" width="10.60" height="2.60" rx="2.08" ry="1.30" fill="rgba(0,0,0,0.075)"/>
<rect x="94.85" y="431.55" width="9.90" height="1.90" rx="1.52" ry="0.95" fill="rgba(0,0,0,0.250)"/>
<rect x="93.80" y="431.60" width="12.00" height="4.80" rx="3.84" ry="2.40" fill="rgba(0,0,0,0.130)"/>
<rect x="94.15" y="431.95" width="11.30" height="4.10" rx="3.28" ry="2.05" fill="rgba(0,0,0,0.216)"/>
<rect x="94.50" y="432.30" width="10.60" height="3.40" rx="2.72" ry="1.70" fill="rgba(0,0,0,0.720)"/>
<rect x="107.60" y="432.55" width="13.40" height="4.10" rx="3.28" ry="2.05" fill="rgba(0,0,0,0.171)"/>
<rect x="107.95" y="432.90" width="12.70" height="3.40" rx="2.72" ry="1.70" fill="rgba(0,0,0,0.285)"/>
<rect x="108.30" y="433.25" width="12.00" height="2.70" rx="2.16" ry="1.35" fill="rgba(0,0,0,0.950)"/>
<rect x="121.50" y="431.95" width="14.40" height="4.10" rx="3.28" ry="2.05" fill="rgba(0,0,0,0.180)"/>
<rect x="121.85" y="432.30" width="13.70" height="3.40" rx="2.72" ry="1.70" fill="rgba(0,0,0,0.300)"/>
<rect x="122.20" y="432.65" width="13.00" height="2.70" rx="2.16" ry="1.35" fill="rgba(0,0,0,1.000)"/>
</g>
<rect x="33.85" y="423.85" width="106.10" height="18.00" fill="none" stroke="#000" stroke-width="1.3"/>
<text x="27.70" y="441.10" font-size="8.0" text-anchor="end" fill="#222" color="#222">50</text>
<line x1="30.60" y1="438.30" x2="33.20" y2="438.30" stroke="#222" stroke-width="1.1" stroke-linecap="butt"/>
<text x="43.80" y="449.40" font-size="5.9" text-anchor="middle" fill="#5a5a5a" color="#5a5a5a" class="v">0.73</text>
<text x="58.40" y="449.40" font-size="5.9" text-anchor="middle" fill="#5a5a5a" color="#5a5a5a" class="v">1.00</text>
<text x="73.00" y="449.40" font-size="5.9" text-anchor="middle" fill="#5a5a5a" color="#5a5a5a" class="v">0.81</text>
<text x="87.60" y="449.40" font-size="5.9" text-anchor="middle" fill="#5a5a5a" color="#5a5a5a" class="v">1.37</text>
<text x="102.20" y="449.40" font-size="5.9" text-anchor="middle" fill="#5a5a5a" color="#5a5a5a" class="v">1.00</text>
<text x="116.80" y="449.40" font-size="5.9" text-anchor="middle" fill="#5a5a5a" color="#5a5a5a" class="v">1.16</text>
<text x="131.40" y="449.40" font-size="5.9" text-anchor="middle" fill="#5a5a5a" color="#5a5a5a" class="v">1.45</text>
<text x="89.30" y="457.50" font-size="7.7" text-anchor="middle" fill="#1e1e1e" color="#1e1e1e">&#945;-ERK</text>
<line x1="33.60" y1="455.10" x2="69.50" y2="455.10" stroke="#1e1e1e" stroke-width="1.4" stroke-linecap="butt"/>
<line x1="105.90" y1="455.10" x2="140.60" y2="455.10" stroke="#1e1e1e" stroke-width="1.4" stroke-linecap="butt"/>
<g>
<rect x="36.60" y="473.85" width="16.00" height="6.30" rx="5.04" ry="3.15" fill="rgba(0,0,0,0.180)"/>
<rect x="36.95" y="474.20" width="15.30" height="5.60" rx="4.48" ry="2.80" fill="rgba(0,0,0,0.300)"/>
<rect x="37.30" y="474.55" width="14.60" height="4.90" rx="3.92" ry="2.45" fill="rgba(0,0,0,1.000)"/>
<rect x="50.60" y="474.05" width="16.00" height="6.30" rx="5.04" ry="3.15" fill="rgba(0,0,0,0.180)"/>
<rect x="50.95" y="474.40" width="15.30" height="5.60" rx="4.48" ry="2.80" fill="rgba(0,0,0,0.300)"/>
<rect x="51.30" y="474.75" width="14.60" height="4.90" rx="3.92" ry="2.45" fill="rgba(0,0,0,1.000)"/>
<rect x="64.60" y="474.25" width="16.00" height="6.30" rx="5.04" ry="3.15" fill="rgba(0,0,0,0.180)"/>
<rect x="64.95" y="474.60" width="15.30" height="5.60" rx="4.48" ry="2.80" fill="rgba(0,0,0,0.300)"/>
<rect x="65.30" y="474.95" width="14.60" height="4.90" rx="3.92" ry="2.45" fill="rgba(0,0,0,1.000)"/>
<rect x="78.60" y="474.55" width="16.00" height="6.30" rx="5.04" ry="3.15" fill="rgba(0,0,0,0.180)"/>
<rect x="78.95" y="474.90" width="15.30" height="5.60" rx="4.48" ry="2.80" fill="rgba(0,0,0,0.300)"/>
<rect x="79.30" y="475.25" width="14.60" height="4.90" rx="3.92" ry="2.45" fill="rgba(0,0,0,1.000)"/>
<rect x="92.60" y="474.25" width="16.00" height="6.30" rx="5.04" ry="3.15" fill="rgba(0,0,0,0.180)"/>
<rect x="92.95" y="474.60" width="15.30" height="5.60" rx="4.48" ry="2.80" fill="rgba(0,0,0,0.300)"/>
<rect x="93.30" y="474.95" width="14.60" height="4.90" rx="3.92" ry="2.45" fill="rgba(0,0,0,1.000)"/>
<rect x="106.60" y="474.35" width="16.00" height="5.50" rx="4.40" ry="2.75" fill="rgba(0,0,0,0.180)"/>
<rect x="106.95" y="474.70" width="15.30" height="4.80" rx="3.84" ry="2.40" fill="rgba(0,0,0,0.300)"/>
<rect x="107.30" y="475.05" width="14.60" height="4.10" rx="3.28" ry="2.05" fill="rgba(0,0,0,1.000)"/>
<rect x="120.60" y="474.30" width="16.00" height="5.20" rx="4.16" ry="2.60" fill="rgba(0,0,0,0.180)"/>
<rect x="120.95" y="474.65" width="15.30" height="4.50" rx="3.60" ry="2.25" fill="rgba(0,0,0,0.300)"/>
<rect x="121.30" y="475.00" width="14.60" height="3.80" rx="3.04" ry="1.90" fill="rgba(0,0,0,1.000)"/>
</g>
<rect x="33.85" y="467.05" width="106.10" height="18.60" fill="none" stroke="#000" stroke-width="1.3"/>
<text x="27.70" y="485.50" font-size="8.0" text-anchor="end" fill="#222" color="#222">40</text>
<line x1="30.60" y1="482.70" x2="33.20" y2="482.70" stroke="#222" stroke-width="1.1" stroke-linecap="butt"/>
<text x="89.30" y="495.80" font-size="7.7" text-anchor="middle" fill="#1e1e1e" color="#1e1e1e">&#945;-actin</text>
<line x1="33.60" y1="493.40" x2="69.50" y2="493.40" stroke="#1e1e1e" stroke-width="1.4" stroke-linecap="butt"/>
<line x1="105.90" y1="493.40" x2="140.60" y2="493.40" stroke="#1e1e1e" stroke-width="1.4" stroke-linecap="butt"/>
<text x="253.00" y="290.00" font-size="10.0" text-anchor="middle" fill="#46609a" color="#46609a" class="v">Daudi</text>
<text x="225.00" y="301.90" font-size="7.6" text-anchor="middle" fill="#1e1e1e" color="#1e1e1e">8h</text>
<text x="278.50" y="301.90" font-size="7.6" text-anchor="middle" fill="#1e1e1e" color="#1e1e1e">24h</text>
<line x1="204.70" y1="306.80" x2="244.60" y2="306.80" stroke="#2a2a2a" stroke-width="1.4" stroke-linecap="butt"/>
<line x1="253.90" y1="306.80" x2="303.50" y2="306.80" stroke="#2a2a2a" stroke-width="1.4" stroke-linecap="butt"/>
<text x="209.20" y="366.20" font-size="7.8" text-anchor="start" fill="#1e1e1e" color="#1e1e1e" transform="rotate(-45 209.20 366.20)">DMSO</text>
<text x="223.90" y="366.20" font-size="7.8" text-anchor="start" fill="#1e1e1e" color="#1e1e1e" transform="rotate(-45 223.90 366.20)">DMSO</text>
<text x="238.60" y="366.20" font-size="7.8" text-anchor="start" fill="#1e1e1e" color="#1e1e1e" transform="rotate(-45 238.60 366.20)">250 nM PRT062607</text>
<text x="253.30" y="366.20" font-size="7.8" text-anchor="start" fill="#1e1e1e" color="#1e1e1e" transform="rotate(-45 253.30 366.20)">DMSO</text>
<text x="268.00" y="366.20" font-size="7.8" text-anchor="start" fill="#1e1e1e" color="#1e1e1e" transform="rotate(-45 268.00 366.20)">DMSO</text>
<text x="282.70" y="366.20" font-size="7.8" text-anchor="start" fill="#1e1e1e" color="#1e1e1e" transform="rotate(-45 282.70 366.20)">500 nM&#160;&#160;AT13387</text>
<text x="297.40" y="366.20" font-size="7.8" text-anchor="start" fill="#1e1e1e" color="#1e1e1e" transform="rotate(-45 297.40 366.20)">100 nM STA-9090</text>
<line x1="209.00" y1="369.90" x2="300.30" y2="369.90" stroke="#1a1a1a" stroke-width="1.4" stroke-linecap="butt"/>
<text x="174.00" y="377.30" font-size="7.8" text-anchor="start" fill="#1e1e1e" color="#1e1e1e">+&#945;-IgM:</text>
<text x="209.50" y="377.20" font-size="7.5" text-anchor="middle" fill="#1e1e1e" color="#1e1e1e">-</text>
<text x="223.10" y="377.20" font-size="7.5" text-anchor="middle" fill="#1e1e1e" color="#1e1e1e">+</text>
<text x="238.00" y="377.20" font-size="7.5" text-anchor="middle" fill="#1e1e1e" color="#1e1e1e">+</text>
<text x="253.00" y="377.20" font-size="7.5" text-anchor="middle" fill="#1e1e1e" color="#1e1e1e">-</text>
<text x="266.50" y="377.20" font-size="7.5" text-anchor="middle" fill="#1e1e1e" color="#1e1e1e">+</text>
<text x="280.30" y="377.20" font-size="7.5" text-anchor="middle" fill="#1e1e1e" color="#1e1e1e">+</text>
<text x="295.70" y="377.20" font-size="7.5" text-anchor="middle" fill="#1e1e1e" color="#1e1e1e">+</text>
<g>
<rect x="217.00" y="388.45" width="12.80" height="6.50" rx="5.20" ry="3.25" fill="rgba(0,0,0,0.050)"/>
<rect x="217.35" y="388.80" width="12.10" height="5.80" rx="4.64" ry="2.90" fill="rgba(0,0,0,0.084)"/>
<rect x="217.70" y="389.15" width="11.40" height="5.10" rx="4.08" ry="2.55" fill="rgba(0,0,0,0.280)"/>
<rect x="217.20" y="387.00" width="12.40" height="4.40" rx="3.52" ry="2.20" fill="rgba(0,0,0,0.099)"/>
<rect x="217.55" y="387.35" width="11.70" height="3.70" rx="2.96" ry="1.85" fill="rgba(0,0,0,0.165)"/>
<rect x="217.90" y="387.70" width="11.00" height="3.00" rx="2.40" ry="1.50" fill="rgba(0,0,0,0.550)"/>
<rect x="216.60" y="391.45" width="13.60" height="4.70" rx="3.76" ry="2.35" fill="rgba(0,0,0,0.180)"/>
<rect x="216.95" y="391.80" width="12.90" height="4.00" rx="3.20" ry="2.00" fill="rgba(0,0,0,0.300)"/>
<rect x="217.30" y="392.15" width="12.20" height="3.30" rx="2.64" ry="1.65" fill="rgba(0,0,0,1.000)"/>
<rect x="231.70" y="390.90" width="11.80" height="3.80" rx="3.04" ry="1.90" fill="rgba(0,0,0,0.002)"/>
<rect x="232.05" y="391.25" width="11.10" height="3.10" rx="2.48" ry="1.55" fill="rgba(0,0,0,0.004)"/>
<rect x="232.40" y="391.60" width="10.40" height="2.40" rx="1.92" ry="1.20" fill="rgba(0,0,0,0.012)"/>
<rect x="259.50" y="388.45" width="12.80" height="6.50" rx="5.20" ry="3.25" fill="rgba(0,0,0,0.050)"/>
<rect x="259.85" y="388.80" width="12.10" height="5.80" rx="4.64" ry="2.90" fill="rgba(0,0,0,0.084)"/>
<rect x="260.20" y="389.15" width="11.40" height="5.10" rx="4.08" ry="2.55" fill="rgba(0,0,0,0.280)"/>
<rect x="259.70" y="387.00" width="12.40" height="4.40" rx="3.52" ry="2.20" fill="rgba(0,0,0,0.099)"/>
<rect x="260.05" y="387.35" width="11.70" height="3.70" rx="2.96" ry="1.85" fill="rgba(0,0,0,0.165)"/>
<rect x="260.40" y="387.70" width="11.00" height="3.00" rx="2.40" ry="1.50" fill="rgba(0,0,0,0.550)"/>
<rect x="259.10" y="391.45" width="13.60" height="4.70" rx="3.76" ry="2.35" fill="rgba(0,0,0,0.180)"/>
<rect x="259.45" y="391.80" width="12.90" height="4.00" rx="3.20" ry="2.00" fill="rgba(0,0,0,0.300)"/>
<rect x="259.80" y="392.15" width="12.20" height="3.30" rx="2.64" ry="1.65" fill="rgba(0,0,0,1.000)"/>
<rect x="275.50" y="390.90" width="11.80" height="3.80" rx="3.04" ry="1.90" fill="rgba(0,0,0,0.013)"/>
<rect x="275.85" y="391.25" width="11.10" height="3.10" rx="2.48" ry="1.55" fill="rgba(0,0,0,0.021)"/>
<rect x="276.20" y="391.60" width="10.40" height="2.40" rx="1.92" ry="1.20" fill="rgba(0,0,0,0.070)"/>
<rect x="290.60" y="390.90" width="11.80" height="3.80" rx="3.04" ry="1.90" fill="rgba(0,0,0,0.006)"/>
<rect x="290.95" y="391.25" width="11.10" height="3.10" rx="2.48" ry="1.55" fill="rgba(0,0,0,0.011)"/>
<rect x="291.30" y="391.60" width="10.40" height="2.40" rx="1.92" ry="1.20" fill="rgba(0,0,0,0.035)"/>
</g>
<rect x="200.65" y="381.75" width="105.40" height="17.50" fill="none" stroke="#000" stroke-width="1.3"/>
<text x="194.50" y="398.30" font-size="8.0" text-anchor="end" fill="#222" color="#222">50</text>
<line x1="197.40" y1="395.50" x2="200.00" y2="395.50" stroke="#222" stroke-width="1.1" stroke-linecap="butt"/>
<text x="208.40" y="406.90" font-size="5.9" text-anchor="middle" fill="#5a5a5a" color="#5a5a5a" class="v">0</text>
<text x="223.10" y="406.90" font-size="5.9" text-anchor="middle" fill="#5a5a5a" color="#5a5a5a" class="v">1.00</text>
<text x="237.80" y="406.90" font-size="5.9" text-anchor="middle" fill="#5a5a5a" color="#5a5a5a" class="v">0.01</text>
<text x="252.50" y="406.90" font-size="5.9" text-anchor="middle" fill="#5a5a5a" color="#5a5a5a" class="v">0</text>
<text x="267.20" y="406.90" font-size="5.9" text-anchor="middle" fill="#5a5a5a" color="#5a5a5a" class="v">1.00</text>
<text x="281.90" y="406.90" font-size="5.9" text-anchor="middle" fill="#5a5a5a" color="#5a5a5a" class="v">0.07</text>
<text x="296.60" y="406.90" font-size="5.9" text-anchor="middle" fill="#5a5a5a" color="#5a5a5a" class="v">0.06</text>
<text x="254.50" y="415.90" font-size="7.7" text-anchor="middle" fill="#1e1e1e" color="#1e1e1e">&#945;-pERK</text>
<line x1="200.40" y1="413.50" x2="236.30" y2="413.50" stroke="#1e1e1e" stroke-width="1.4" stroke-linecap="butt"/>
<line x1="272.70" y1="413.50" x2="306.70" y2="413.50" stroke="#1e1e1e" stroke-width="1.4" stroke-linecap="butt"/>
<g>
<rect x="203.80" y="433.35" width="12.80" height="4.10" rx="3.28" ry="2.05" fill="rgba(0,0,0,0.180)"/>
<rect x="204.15" y="433.70" width="12.10" height="3.40" rx="2.72" ry="1.70" fill="rgba(0,0,0,0.300)"/>
<rect x="204.50" y="434.05" width="11.40" height="2.70" rx="2.16" ry="1.35" fill="rgba(0,0,0,1.000)"/>
<rect x="218.95" y="431.20" width="11.30" height="3.40" rx="2.72" ry="1.70" fill="rgba(0,0,0,0.036)"/>
<rect x="219.30" y="431.55" width="10.60" height="2.70" rx="2.16" ry="1.35" fill="rgba(0,0,0,0.060)"/>
<rect x="219.65" y="431.90" width="9.90" height="2.00" rx="1.60" ry="1.00" fill="rgba(0,0,0,0.200)"/>
<rect x="218.50" y="431.90" width="12.20" height="5.00" rx="4.00" ry="2.50" fill="rgba(0,0,0,0.099)"/>
<rect x="218.85" y="432.25" width="11.50" height="4.30" rx="3.44" ry="2.15" fill="rgba(0,0,0,0.165)"/>
<rect x="219.20" y="432.60" width="10.80" height="3.60" rx="2.88" ry="1.80" fill="rgba(0,0,0,0.550)"/>
<rect x="232.85" y="433.45" width="12.30" height="4.10" rx="3.28" ry="2.05" fill="rgba(0,0,0,0.180)"/>
<rect x="233.20" y="433.80" width="11.60" height="3.40" rx="2.72" ry="1.70" fill="rgba(0,0,0,0.300)"/>
<rect x="233.55" y="434.15" width="10.90" height="2.70" rx="2.16" ry="1.35" fill="rgba(0,0,0,1.000)"/>
<rect x="247.00" y="433.35" width="13.20" height="4.10" rx="3.28" ry="2.05" fill="rgba(0,0,0,0.180)"/>
<rect x="247.35" y="433.70" width="12.50" height="3.40" rx="2.72" ry="1.70" fill="rgba(0,0,0,0.300)"/>
<rect x="247.70" y="434.05" width="11.80" height="2.70" rx="2.16" ry="1.35" fill="rgba(0,0,0,1.000)"/>
<rect x="261.65" y="430.80" width="11.30" height="3.40" rx="2.72" ry="1.70" fill="rgba(0,0,0,0.036)"/>
<rect x="262.00" y="431.15" width="10.60" height="2.70" rx="2.16" ry="1.35" fill="rgba(0,0,0,0.060)"/>
<rect x="262.35" y="431.50" width="9.90" height="2.00" rx="1.60" ry="1.00" fill="rgba(0,0,0,0.200)"/>
<rect x="261.20" y="431.50" width="12.20" height="5.00" rx="4.00" ry="2.50" fill="rgba(0,0,0,0.099)"/>
<rect x="261.55" y="431.85" width="11.50" height="4.30" rx="3.44" ry="2.15" fill="rgba(0,0,0,0.165)"/>
<rect x="261.90" y="432.20" width="10.80" height="3.60" rx="2.88" ry="1.80" fill="rgba(0,0,0,0.550)"/>
<rect x="274.80" y="432.95" width="13.80" height="4.10" rx="3.28" ry="2.05" fill="rgba(0,0,0,0.180)"/>
<rect x="275.15" y="433.30" width="13.10" height="3.40" rx="2.72" ry="1.70" fill="rgba(0,0,0,0.300)"/>
<rect x="275.50" y="433.65" width="12.40" height="2.70" rx="2.16" ry="1.35" fill="rgba(0,0,0,1.000)"/>
<rect x="289.25" y="432.15" width="14.50" height="4.10" rx="3.28" ry="2.05" fill="rgba(0,0,0,0.180)"/>
<rect x="289.60" y="432.50" width="13.80" height="3.40" rx="2.72" ry="1.70" fill="rgba(0,0,0,0.300)"/>
<rect x="289.95" y="432.85" width="13.10" height="2.70" rx="2.16" ry="1.35" fill="rgba(0,0,0,1.000)"/>
</g>
<rect x="200.65" y="424.75" width="105.40" height="18.00" fill="none" stroke="#000" stroke-width="1.3"/>
<text x="194.50" y="441.80" font-size="8.0" text-anchor="end" fill="#222" color="#222">50</text>
<line x1="197.40" y1="439.00" x2="200.00" y2="439.00" stroke="#222" stroke-width="1.1" stroke-linecap="butt"/>
<text x="208.40" y="450.30" font-size="5.9" text-anchor="middle" fill="#5a5a5a" color="#5a5a5a" class="v">1.15</text>
<text x="223.10" y="450.30" font-size="5.9" text-anchor="middle" fill="#5a5a5a" color="#5a5a5a" class="v">1.00</text>
<text x="237.80" y="450.30" font-size="5.9" text-anchor="middle" fill="#5a5a5a" color="#5a5a5a" class="v">1.41</text>
<text x="252.50" y="450.30" font-size="5.9" text-anchor="middle" fill="#5a5a5a" color="#5a5a5a" class="v">1.45</text>
<text x="267.20" y="450.30" font-size="5.9" text-anchor="middle" fill="#5a5a5a" color="#5a5a5a" class="v">1.00</text>
<text x="281.90" y="450.30" font-size="5.9" text-anchor="middle" fill="#5a5a5a" color="#5a5a5a" class="v">1.21</text>
<text x="296.60" y="450.30" font-size="5.9" text-anchor="middle" fill="#5a5a5a" color="#5a5a5a" class="v">1.11</text>
<text x="254.50" y="458.50" font-size="7.7" text-anchor="middle" fill="#1e1e1e" color="#1e1e1e">&#945;-ERK</text>
<line x1="200.40" y1="456.10" x2="236.30" y2="456.10" stroke="#1e1e1e" stroke-width="1.4" stroke-linecap="butt"/>
<line x1="272.70" y1="456.10" x2="306.70" y2="456.10" stroke="#1e1e1e" stroke-width="1.4" stroke-linecap="butt"/>
<g>
<rect x="202.70" y="473.55" width="16.00" height="6.50" rx="5.20" ry="3.25" fill="rgba(0,0,0,0.180)"/>
<rect x="203.05" y="473.90" width="15.30" height="5.80" rx="4.64" ry="2.90" fill="rgba(0,0,0,0.300)"/>
<rect x="203.40" y="474.25" width="14.60" height="5.10" rx="4.08" ry="2.55" fill="rgba(0,0,0,1.000)"/>
<rect x="216.80" y="473.95" width="16.00" height="6.50" rx="5.20" ry="3.25" fill="rgba(0,0,0,0.180)"/>
<rect x="217.15" y="474.30" width="15.30" height="5.80" rx="4.64" ry="2.90" fill="rgba(0,0,0,0.300)"/>
<rect x="217.50" y="474.65" width="14.60" height="5.10" rx="4.08" ry="2.55" fill="rgba(0,0,0,1.000)"/>
<rect x="230.90" y="474.25" width="16.00" height="6.50" rx="5.20" ry="3.25" fill="rgba(0,0,0,0.180)"/>
<rect x="231.25" y="474.60" width="15.30" height="5.80" rx="4.64" ry="2.90" fill="rgba(0,0,0,0.300)"/>
<rect x="231.60" y="474.95" width="14.60" height="5.10" rx="4.08" ry="2.55" fill="rgba(0,0,0,1.000)"/>
<rect x="245.00" y="474.65" width="16.00" height="6.50" rx="5.20" ry="3.25" fill="rgba(0,0,0,0.180)"/>
<rect x="245.35" y="475.00" width="15.30" height="5.80" rx="4.64" ry="2.90" fill="rgba(0,0,0,0.300)"/>
<rect x="245.70" y="475.35" width="14.60" height="5.10" rx="4.08" ry="2.55" fill="rgba(0,0,0,1.000)"/>
<rect x="259.10" y="474.25" width="16.00" height="6.50" rx="5.20" ry="3.25" fill="rgba(0,0,0,0.180)"/>
<rect x="259.45" y="474.60" width="15.30" height="5.80" rx="4.64" ry="2.90" fill="rgba(0,0,0,0.300)"/>
<rect x="259.80" y="474.95" width="14.60" height="5.10" rx="4.08" ry="2.55" fill="rgba(0,0,0,1.000)"/>
<rect x="273.20" y="474.35" width="16.00" height="5.70" rx="4.56" ry="2.85" fill="rgba(0,0,0,0.180)"/>
<rect x="273.55" y="474.70" width="15.30" height="5.00" rx="4.00" ry="2.50" fill="rgba(0,0,0,0.300)"/>
<rect x="273.90" y="475.05" width="14.60" height="4.30" rx="3.44" ry="2.15" fill="rgba(0,0,0,1.000)"/>
<rect x="287.30" y="474.15" width="16.00" height="5.50" rx="4.40" ry="2.75" fill="rgba(0,0,0,0.180)"/>
<rect x="287.65" y="474.50" width="15.30" height="4.80" rx="3.84" ry="2.40" fill="rgba(0,0,0,0.300)"/>
<rect x="288.00" y="474.85" width="14.60" height="4.10" rx="3.28" ry="2.05" fill="rgba(0,0,0,1.000)"/>
</g>
<rect x="200.65" y="468.45" width="105.40" height="17.80" fill="none" stroke="#000" stroke-width="1.3"/>
<text x="194.50" y="486.30" font-size="8.0" text-anchor="end" fill="#222" color="#222">40</text>
<line x1="197.40" y1="483.50" x2="200.00" y2="483.50" stroke="#222" stroke-width="1.1" stroke-linecap="butt"/>
<text x="254.50" y="496.70" font-size="7.7" text-anchor="middle" fill="#1e1e1e" color="#1e1e1e">&#945;-actin</text>
<line x1="200.40" y1="494.30" x2="236.30" y2="494.30" stroke="#1e1e1e" stroke-width="1.4" stroke-linecap="butt"/>
<line x1="272.70" y1="494.30" x2="306.70" y2="494.30" stroke="#1e1e1e" stroke-width="1.4" stroke-linecap="butt"/>
<path d="M375.30,103.51 L376.09,102.81 L376.88,103.02 L377.67,103.71 L378.45,103.56 L379.24,103.72 L380.03,103.61 L380.82,103.55 L381.61,104.42 L382.40,104.56 L383.18,103.70 L383.97,104.19 L384.76,103.85 L385.55,104.72 L386.34,104.25 L387.13,103.95 L387.91,104.51 L388.70,103.72 L389.49,103.77 L390.28,104.74 L391.07,104.74 L391.86,104.15 L392.64,103.69 L393.43,104.30 L394.22,104.46 L395.01,104.21 L395.80,104.63 L396.59,104.38 L397.38,104.10 L398.16,103.99 L398.95,104.22 L399.74,104.15 L400.53,104.06 L401.32,103.68 L402.11,103.72 L402.89,103.85 L403.68,102.69 L404.47,102.62 L405.26,101.96 L406.05,101.63 L406.84,99.53 L407.62,98.14 L408.41,96.99 L409.20,94.07 L409.99,90.42 L410.78,86.76 L411.57,82.27 L412.35,78.28 L413.14,73.47 L413.93,69.38 L414.72,65.64 L415.51,61.60 L416.30,58.40 L417.09,56.54 L417.87,55.45 L418.66,54.24 L419.45,54.02 L420.24,53.09 L421.03,51.82 L421.82,51.68 L422.60,51.46 L423.39,50.65 L424.18,50.19 L424.97,49.97 L425.76,50.08 L426.55,49.81 L427.33,49.56 L428.12,49.10 L428.91,49.27 L429.70,49.31 L430.49,49.12 L431.28,49.57 L432.06,49.52 L432.85,48.78 L433.64,48.48 L434.43,48.96 L435.22,49.25 L436.01,49.57 L436.80,49.29 L437.58,48.84 L438.37,49.18 L439.16,49.54 L439.95,49.29 L440.74,50.11 L441.53,49.92 L442.31,49.56 L443.10,50.11 L443.89,50.38 L444.68,50.74 L445.47,50.57 L446.26,50.27 L447.04,51.49 L447.83,50.77 L448.62,50.89 L449.41,50.98 L450.20,51.31 L450.99,51.41 L451.77,51.93 L452.56,52.07 L453.35,52.41 L454.14,53.02 L454.93,52.31 L455.72,52.84 L456.51,53.44 L457.29,53.28 L458.08,53.47 L458.87,53.78 L459.66,53.94 L460.45,53.87 L461.24,53.91 L462.02,54.06 L462.81,54.36 L463.60,54.97 L464.39,54.87 L465.18,55.05 L465.97,54.71 L466.75,54.52 L467.54,54.71 L468.33,54.83 L469.12,54.92 L469.91,55.66 L470.70,55.12 L471.48,55.42 L472.27,56.19 L473.06,56.38 L473.85,56.49 L474.64,55.77 L475.43,56.45 L476.22,56.72 L477.00,56.26 L477.79,56.68 L478.58,57.11 L479.37,57.12 L480.16,56.83 L480.95,57.35 L481.73,57.35 L482.52,56.98 L483.31,57.39 L484.10,57.66 L484.89,57.61 L485.68,58.23 L486.46,57.95 L487.25,58.03 L488.04,58.41 L488.83,58.62 L489.62,57.86 L490.41,58.41 L491.19,58.87 L491.98,58.55 L492.77,58.43 L493.56,59.45 L494.35,59.57 L495.14,59.55 L495.93,59.03 L496.71,59.77 L497.50,59.29 L498.29,59.44 L499.08,59.71 L499.87,60.19 L500.66,59.47 L501.44,59.79" fill="none" stroke="#75ad45" stroke-width="1.45" stroke-linejoin="round"/>
<path d="M375.30,101.61 L376.09,101.86 L376.88,103.11 L377.67,103.35 L378.45,102.79 L379.24,103.17 L380.03,103.50 L380.82,104.13 L381.61,103.99 L382.40,104.14 L383.18,104.27 L383.97,104.81 L384.76,104.55 L385.55,104.64 L386.34,104.30 L387.13,104.02 L387.91,104.08 L388.70,104.54 L389.49,104.65 L390.28,104.84 L391.07,105.08 L391.86,105.07 L392.64,104.56 L393.43,104.69 L394.22,104.59 L395.01,103.98 L395.80,104.35 L396.59,104.27 L397.38,104.60 L398.16,104.79 L398.95,104.42 L399.74,104.58 L400.53,104.11 L401.32,103.50 L402.11,103.77 L402.89,104.22 L403.68,103.29 L404.47,103.24 L405.26,103.12 L406.05,102.70 L406.84,102.56 L407.62,102.14 L408.41,102.19 L409.20,100.99 L409.99,100.48 L410.78,100.78 L411.57,99.43 L412.35,98.73 L413.14,98.24 L413.93,97.41 L414.72,96.66 L415.51,95.22 L416.30,94.49 L417.09,92.74 L417.87,91.82 L418.66,89.81 L419.45,88.50 L420.24,87.73 L421.03,86.38 L421.82,84.78 L422.60,83.82 L423.39,82.92 L424.18,82.03 L424.97,80.76 L425.76,79.25 L426.55,78.85 L427.33,77.16 L428.12,77.11 L428.91,75.71 L429.70,75.77 L430.49,74.50 L431.28,74.29 L432.06,74.09 L432.85,73.71 L433.64,73.24 L434.43,73.03 L435.22,73.09 L436.01,72.97 L436.80,72.42 L437.58,71.77 L438.37,71.97 L439.16,72.47 L439.95,71.55 L440.74,71.61 L441.53,71.38 L442.31,72.16 L443.10,71.52 L443.89,72.28 L444.68,71.61 L445.47,72.04 L446.26,72.10 L447.04,71.40 L447.83,72.29 L448.62,71.86 L449.41,71.54 L450.20,72.28 L450.99,72.39 L451.77,71.72 L452.56,72.32 L453.35,72.08 L454.14,72.94 L454.93,72.68 L455.72,73.00 L456.51,72.55 L457.29,73.33 L458.08,72.47 L458.87,73.63 L459.66,72.96 L460.45,73.88 L461.24,73.74 L462.02,73.23 L462.81,74.09 L463.60,74.18 L464.39,73.73 L465.18,74.18 L465.97,74.68 L466.75,73.74 L467.54,74.80 L468.33,75.04 L469.12,74.82 L469.91,74.63 L470.70,74.61 L471.48,75.44 L472.27,75.31 L473.06,75.77 L473.85,75.42 L474.64,75.19 L475.43,75.34 L476.22,75.28 L477.00,75.56 L477.79,75.56 L478.58,75.85 L479.37,76.23 L480.16,76.63 L480.95,76.26 L481.73,76.76 L482.52,77.12 L483.31,76.85 L484.10,76.48 L484.89,77.44 L485.68,77.04 L486.46,77.37 L487.25,77.35 L488.04,77.88 L488.83,77.08 L489.62,77.98 L490.41,77.71 L491.19,78.03 L491.98,78.60 L492.77,78.11 L493.56,78.69 L494.35,78.90 L495.14,79.04 L495.93,79.01 L496.71,79.20 L497.50,78.71 L498.29,78.97 L499.08,78.55 L499.87,78.72 L500.66,78.77 L501.44,79.74" fill="none" stroke="#2c4472" stroke-width="1.9" stroke-linejoin="round"/>
<path d="M375.30,102.41 L376.09,102.29 L376.88,102.73 L377.67,102.72 L378.45,102.96 L379.24,103.84 L380.03,104.13 L380.82,103.42 L381.61,104.25 L382.40,104.42 L383.18,103.66 L383.97,104.31 L384.76,103.95 L385.55,104.39 L386.34,104.24 L387.13,104.81 L387.91,104.28 L388.70,104.02 L389.49,104.41 L390.28,104.16 L391.07,104.22 L391.86,104.88 L392.64,104.08 L393.43,104.24 L394.22,104.53 L395.01,104.80 L395.80,103.83 L396.59,104.23 L397.38,103.91 L398.16,103.70 L398.95,103.84 L399.74,103.57 L400.53,104.10 L401.32,103.58 L402.11,103.90 L402.89,103.25 L403.68,103.18 L404.47,103.90 L405.26,103.66 L406.05,103.33 L406.84,102.17 L407.62,102.34 L408.41,101.65 L409.20,101.49 L409.99,100.71 L410.78,100.25 L411.57,99.60 L412.35,98.60 L413.14,97.83 L413.93,96.68 L414.72,96.09 L415.51,94.81 L416.30,93.63 L417.09,92.01 L417.87,90.83 L418.66,89.93 L419.45,87.84 L420.24,86.49 L421.03,85.38 L421.82,84.59 L422.60,83.28 L423.39,82.66 L424.18,80.75 L424.97,79.85 L425.76,79.04 L426.55,78.28 L427.33,76.51 L428.12,75.59 L428.91,75.92 L429.70,74.52 L430.49,74.41 L431.28,74.21 L432.06,73.63 L432.85,72.73 L433.64,72.29 L434.43,72.94 L435.22,72.05 L436.01,72.45 L436.80,71.49 L437.58,71.75 L438.37,70.99 L439.16,70.77 L439.95,71.22 L440.74,70.60 L441.53,71.33 L442.31,71.55 L443.10,70.92 L443.89,71.53 L444.68,71.32 L445.47,71.06 L446.26,70.83 L447.04,71.33 L447.83,71.47 L448.62,70.56 L449.41,71.20 L450.20,70.51 L450.99,70.62 L451.77,71.25 L452.56,71.22 L453.35,71.21 L454.14,71.14 L454.93,71.26 L455.72,71.38 L456.51,71.39 L457.29,71.11 L458.08,71.68 L458.87,71.85 L459.66,71.62 L460.45,72.25 L461.24,72.27 L462.02,71.60 L462.81,72.21 L463.60,72.27 L464.39,72.96 L465.18,72.59 L465.97,72.50 L466.75,73.22 L467.54,72.65 L468.33,72.72 L469.12,73.46 L469.91,72.93 L470.70,73.20 L471.48,73.07 L472.27,73.53 L473.06,73.24 L473.85,73.30 L474.64,74.21 L475.43,74.26 L476.22,73.68 L477.00,73.45 L477.79,74.35 L478.58,74.22 L479.37,74.17 L480.16,74.57 L480.95,74.62 L481.73,74.77 L482.52,74.80 L483.31,74.64 L484.10,75.07 L484.89,75.08 L485.68,74.73 L486.46,75.66 L487.25,75.15 L488.04,75.06 L488.83,75.63 L489.62,75.82 L490.41,75.26 L491.19,75.99 L491.98,76.14 L492.77,75.96 L493.56,75.76 L494.35,76.52 L495.14,76.37 L495.93,76.45 L496.71,75.98 L497.50,76.52 L498.29,76.14 L499.08,77.01 L499.87,76.91 L500.66,76.66 L501.44,76.49" fill="none" stroke="#372055" stroke-width="1.9" stroke-linejoin="round"/>
<path d="M375.30,101.02 L376.09,101.46 L376.88,101.45 L377.67,102.06 L378.45,102.50 L379.24,102.45 L380.03,102.19 L380.82,102.60 L381.61,102.89 L382.40,103.70 L383.18,103.48 L383.97,103.87 L384.76,104.06 L385.55,104.21 L386.34,104.14 L387.13,103.39 L387.91,103.54 L388.70,103.59 L389.49,103.62 L390.28,104.31 L391.07,104.18 L391.86,103.82 L392.64,103.70 L393.43,103.55 L394.22,103.50 L395.01,104.37 L395.80,103.77 L396.59,103.67 L397.38,103.84 L398.16,104.18 L398.95,103.83 L399.74,104.23 L400.53,103.23 L401.32,103.23 L402.11,103.49 L402.89,103.65 L403.68,102.84 L404.47,103.06 L405.26,102.53 L406.05,102.35 L406.84,102.43 L407.62,102.14 L408.41,101.45 L409.20,101.02 L409.99,100.53 L410.78,99.40 L411.57,97.64 L412.35,97.12 L413.14,95.60 L413.93,93.34 L414.72,92.07 L415.51,90.09 L416.30,88.49 L417.09,87.00 L417.87,84.69 L418.66,84.01 L419.45,82.19 L420.24,80.88 L421.03,78.89 L421.82,77.86 L422.60,76.41 L423.39,74.70 L424.18,73.94 L424.97,72.49 L425.76,70.99 L426.55,70.85 L427.33,69.95 L428.12,68.93 L428.91,67.67 L429.70,67.43 L430.49,67.61 L431.28,67.34 L432.06,67.34 L432.85,66.84 L433.64,67.16 L434.43,66.31 L435.22,66.02 L436.01,65.91 L436.80,66.16 L437.58,65.92 L438.37,66.98 L439.16,66.70 L439.95,65.96 L440.74,66.20 L441.53,66.63 L442.31,66.07 L443.10,66.46 L443.89,66.28 L444.68,66.91 L445.47,67.07 L446.26,66.84 L447.04,67.24 L447.83,67.03 L448.62,66.45 L449.41,67.22 L450.20,67.66 L450.99,67.70 L451.77,67.65 L452.56,67.06 L453.35,67.63 L454.14,67.82 L454.93,68.15 L455.72,67.27 L456.51,68.02 L457.29,68.38 L458.08,68.67 L458.87,68.80 L459.66,68.80 L460.45,68.36 L461.24,69.08 L462.02,69.33 L462.81,68.95 L463.60,69.34 L464.39,68.62 L465.18,69.72 L465.97,69.38 L466.75,69.23 L467.54,69.75 L468.33,69.22 L469.12,69.91 L469.91,70.29 L470.70,70.22 L471.48,70.76 L472.27,70.44 L473.06,70.76 L473.85,70.16 L474.64,70.34 L475.43,70.83 L476.22,71.48 L477.00,71.35 L477.79,71.48 L478.58,71.64 L479.37,71.74 L480.16,71.14 L480.95,72.08 L481.73,72.31 L482.52,71.45 L483.31,71.98 L484.10,71.63 L484.89,72.41 L485.68,71.98 L486.46,72.38 L487.25,72.35 L488.04,72.53 L488.83,72.94 L489.62,73.51 L490.41,73.51 L491.19,72.89 L491.98,72.99 L492.77,73.09 L493.56,73.88 L494.35,73.64 L495.14,73.61 L495.93,73.91 L496.71,73.85 L497.50,74.30 L498.29,74.28 L499.08,74.37 L499.87,74.97 L500.66,74.36 L501.44,74.45" fill="none" stroke="#ab1839" stroke-width="1.9" stroke-linejoin="round"/>
<line x1="375.20" y1="23.60" x2="375.20" y2="111.40" stroke="#111" stroke-width="1.3" stroke-linecap="butt"/>
<line x1="374.60" y1="110.80" x2="510.00" y2="110.80" stroke="#111" stroke-width="1.3" stroke-linecap="butt"/>
<line x1="371.20" y1="26.80" x2="375.20" y2="26.80" stroke="#111" stroke-width="1.1" stroke-linecap="butt"/>
<text x="0.00" y="0.00" font-size="8.2" text-anchor="end" fill="#1e1e1e" color="#1e1e1e" transform="translate(369.60 29.70) scale(1 1.080)">0.8</text>
<line x1="371.20" y1="54.80" x2="375.20" y2="54.80" stroke="#111" stroke-width="1.1" stroke-linecap="butt"/>
<text x="0.00" y="0.00" font-size="8.2" text-anchor="end" fill="#1e1e1e" color="#1e1e1e" transform="translate(369.60 57.70) scale(1 1.080)">0.6</text>
<line x1="371.20" y1="82.80" x2="375.20" y2="82.80" stroke="#111" stroke-width="1.1" stroke-linecap="butt"/>
<text x="0.00" y="0.00" font-size="8.2" text-anchor="end" fill="#1e1e1e" color="#1e1e1e" transform="translate(369.60 85.70) scale(1 1.080)">0.4</text>
<line x1="371.20" y1="110.80" x2="375.20" y2="110.80" stroke="#111" stroke-width="1.1" stroke-linecap="butt"/>
<text x="0.00" y="0.00" font-size="8.2" text-anchor="end" fill="#1e1e1e" color="#1e1e1e" transform="translate(369.60 113.70) scale(1 1.080)">0.2</text>
<line x1="375.30" y1="110.30" x2="375.30" y2="113.40" stroke="#111" stroke-width="1.1" stroke-linecap="butt"/>
<text x="0.00" y="0.00" font-size="7.6" text-anchor="middle" fill="#1e1e1e" color="#1e1e1e" transform="translate(375.30 123.70) scale(1 1.150)">0</text>
<line x1="401.58" y1="110.30" x2="401.58" y2="113.40" stroke="#111" stroke-width="1.1" stroke-linecap="butt"/>
<text x="0.00" y="0.00" font-size="7.6" text-anchor="middle" fill="#1e1e1e" color="#1e1e1e" transform="translate(401.58 123.70) scale(1 1.150)">50</text>
<line x1="427.86" y1="110.30" x2="427.86" y2="113.40" stroke="#111" stroke-width="1.1" stroke-linecap="butt"/>
<text x="0.00" y="0.00" font-size="7.6" text-anchor="middle" fill="#1e1e1e" color="#1e1e1e" transform="translate(427.86 123.70) scale(1 1.150)">100</text>
<line x1="454.14" y1="110.30" x2="454.14" y2="113.40" stroke="#111" stroke-width="1.1" stroke-linecap="butt"/>
<text x="0.00" y="0.00" font-size="7.6" text-anchor="middle" fill="#1e1e1e" color="#1e1e1e" transform="translate(454.14 123.70) scale(1 1.150)">150</text>
<line x1="480.42" y1="110.30" x2="480.42" y2="113.40" stroke="#111" stroke-width="1.1" stroke-linecap="butt"/>
<text x="0.00" y="0.00" font-size="7.6" text-anchor="middle" fill="#1e1e1e" color="#1e1e1e" transform="translate(480.42 123.70) scale(1 1.150)">200</text>
<line x1="506.70" y1="110.30" x2="506.70" y2="113.40" stroke="#111" stroke-width="1.1" stroke-linecap="butt"/>
<text x="0.00" y="0.00" font-size="7.6" text-anchor="middle" fill="#1e1e1e" color="#1e1e1e" transform="translate(506.70 123.70) scale(1 1.150)">250</text>
<text x="0.00" y="0.00" font-size="8.7" text-anchor="middle" fill="#1e1e1e" color="#1e1e1e" transform="translate(442.40 137.10) scale(1 1.100)">Time (s)</text>
<text x="0.00" y="0.00" font-size="8.05" text-anchor="middle" fill="#1e1e1e" color="#1e1e1e" transform="translate(352.30 66.80) scale(1 1.120) rotate(-90)">Indo-1 (405nm/530nm)</text>
<text x="378.40" y="33.40" font-size="7.6" text-anchor="start" fill="#d0a55c" color="#d0a55c">DG75</text>
<line x1="407.90" y1="28.60" x2="416.70" y2="28.60" stroke="#6a9a48" stroke-width="1.5" stroke-linecap="butt"/>
<text x="420.00" y="31.40" font-size="7.7" text-anchor="start" fill="#1e1e1e" color="#1e1e1e">DMSO</text>
<line x1="407.90" y1="39.90" x2="416.70" y2="39.90" stroke="#2c4470" stroke-width="1.7" stroke-linecap="butt"/>
<text x="420.00" y="42.70" font-size="7.7" text-anchor="start" fill="#1e1e1e" color="#1e1e1e">AT13387</text>
<line x1="458.00" y1="28.60" x2="467.70" y2="28.60" stroke="#35204f" stroke-width="1.5" stroke-linecap="butt"/>
<text x="471.00" y="31.40" font-size="7.7" text-anchor="start" fill="#1e1e1e" color="#1e1e1e">STA-9090</text>
<line x1="458.00" y1="39.90" x2="467.70" y2="39.90" stroke="#962040" stroke-width="1.7" stroke-linecap="butt"/>
<text x="471.00" y="42.70" font-size="7.7" text-anchor="start" fill="#1e1e1e" color="#1e1e1e">PRT062607</text>
<path d="M375.30,224.48 L376.09,224.29 L376.88,224.18 L377.67,223.97 L378.45,224.14 L379.24,223.89 L380.03,224.84 L380.82,224.31 L381.61,223.73 L382.40,224.01 L383.18,223.68 L383.97,224.51 L384.76,224.06 L385.55,224.26 L386.34,223.87 L387.13,223.77 L387.91,224.34 L388.70,224.04 L389.49,223.90 L390.28,223.12 L391.07,223.20 L391.86,223.79 L392.64,222.99 L393.43,223.64 L394.22,223.00 L395.01,223.45 L395.80,223.48 L396.59,222.39 L397.38,223.00 L398.16,222.86 L398.95,221.86 L399.74,221.82 L400.53,222.31 L401.32,221.37 L402.11,221.63 L402.89,221.18 L403.68,221.33 L404.47,220.05 L405.26,219.79 L406.05,218.84 L406.84,218.02 L407.62,217.36 L408.41,215.34 L409.20,212.85 L409.99,209.71 L410.78,205.55 L411.57,199.34 L412.35,192.28 L413.14,186.76 L413.93,180.78 L414.72,176.43 L415.51,172.27 L416.30,168.25 L417.09,166.01 L417.87,164.12 L418.66,162.22 L419.45,160.58 L420.24,160.23 L421.03,158.34 L421.82,158.67 L422.60,157.21 L423.39,156.54 L424.18,156.96 L424.97,155.64 L425.76,155.70 L426.55,155.14 L427.33,155.55 L428.12,155.36 L428.91,155.14 L429.70,154.27 L430.49,155.17 L431.28,154.68 L432.06,154.70 L432.85,155.00 L433.64,156.08 L434.43,156.53 L435.22,156.83 L436.01,157.08 L436.80,158.37 L437.58,158.23 L438.37,158.76 L439.16,159.28 L439.95,160.80 L440.74,160.37 L441.53,161.92 L442.31,162.26 L443.10,162.60 L443.89,162.91 L444.68,164.21 L445.47,164.21 L446.26,165.28 L447.04,166.18 L447.83,166.79 L448.62,167.53 L449.41,168.20 L450.20,168.67 L450.99,168.62 L451.77,168.83 L452.56,170.30 L453.35,170.96 L454.14,170.44 L454.93,171.45 L455.72,172.09 L456.51,172.76 L457.29,172.83 L458.08,173.01 L458.87,173.84 L459.66,174.27 L460.45,175.07 L461.24,174.49 L462.02,175.85 L462.81,175.70 L463.60,175.67 L464.39,176.82 L465.18,176.49 L465.97,176.60 L466.75,177.29 L467.54,177.45 L468.33,178.55 L469.12,178.51 L469.91,179.16 L470.70,178.70 L471.48,179.64 L472.27,179.78 L473.06,179.49 L473.85,179.97 L474.64,180.15 L475.43,181.05 L476.22,181.32 L477.00,181.37 L477.79,181.96 L478.58,182.49 L479.37,182.68 L480.16,183.28 L480.95,183.35 L481.73,182.98 L482.52,183.33 L483.31,184.01 L484.10,184.46 L484.89,184.95 L485.68,185.54 L486.46,185.64 L487.25,185.38 L488.04,185.58 L488.83,186.45 L489.62,186.28 L490.41,186.59 L491.19,186.98 L491.98,187.31 L492.77,187.51 L493.56,188.25 L494.35,188.17 L495.14,188.94 L495.93,189.01 L496.71,188.99 L497.50,189.38 L498.29,190.12 L499.08,189.69 L499.87,190.32 L500.66,190.70 L501.44,191.64" fill="none" stroke="#75ad45" stroke-width="1.45" stroke-linejoin="round"/>
<path d="M375.30,224.57 L376.09,224.49 L376.88,224.82 L377.67,225.02 L378.45,225.27 L379.24,224.49 L380.03,224.66 L380.82,224.30 L381.61,224.69 L382.40,224.20 L383.18,224.72 L383.97,224.08 L384.76,224.12 L385.55,224.42 L386.34,224.23 L387.13,224.02 L387.91,224.51 L388.70,224.05 L389.49,223.71 L390.28,224.25 L391.07,223.58 L391.86,223.64 L392.64,223.39 L393.43,223.88 L394.22,224.08 L395.01,223.21 L395.80,223.11 L396.59,223.42 L397.38,223.71 L398.16,223.48 L398.95,222.87 L399.74,223.12 L400.53,222.24 L401.32,222.48 L402.11,222.73 L402.89,222.02 L403.68,222.11 L404.47,221.18 L405.26,220.86 L406.05,220.89 L406.84,220.27 L407.62,219.68 L408.41,219.00 L409.20,218.20 L409.99,218.56 L410.78,217.37 L411.57,216.15 L412.35,215.36 L413.14,213.70 L413.93,212.74 L414.72,210.23 L415.51,208.92 L416.30,207.68 L417.09,205.41 L417.87,204.21 L418.66,202.70 L419.45,200.72 L420.24,199.47 L421.03,197.80 L421.82,195.56 L422.60,194.37 L423.39,193.86 L424.18,191.80 L424.97,191.52 L425.76,190.13 L426.55,188.53 L427.33,187.99 L428.12,187.58 L428.91,186.86 L429.70,186.32 L430.49,186.18 L431.28,184.83 L432.06,185.57 L432.85,184.86 L433.64,184.22 L434.43,184.41 L435.22,183.63 L436.01,184.39 L436.80,183.56 L437.58,183.69 L438.37,183.99 L439.16,183.80 L439.95,184.37 L440.74,184.02 L441.53,184.14 L442.31,184.55 L443.10,184.70 L443.89,184.54 L444.68,184.98 L445.47,185.46 L446.26,184.83 L447.04,185.49 L447.83,185.36 L448.62,185.15 L449.41,185.96 L450.20,186.25 L450.99,186.26 L451.77,185.87 L452.56,186.25 L453.35,186.50 L454.14,186.41 L454.93,186.02 L455.72,186.90 L456.51,186.87 L457.29,186.49 L458.08,186.93 L458.87,187.46 L459.66,187.37 L460.45,187.51 L461.24,188.04 L462.02,187.93 L462.81,188.16 L463.60,187.75 L464.39,188.45 L465.18,188.23 L465.97,188.04 L466.75,188.26 L467.54,189.03 L468.33,188.95 L469.12,189.43 L469.91,189.51 L470.70,189.58 L471.48,189.42 L472.27,189.43 L473.06,190.33 L473.85,190.83 L474.64,190.51 L475.43,191.13 L476.22,191.34 L477.00,190.69 L477.79,191.61 L478.58,191.12 L479.37,191.70 L480.16,191.24 L480.95,191.52 L481.73,192.60 L482.52,192.64 L483.31,191.98 L484.10,192.55 L484.89,192.95 L485.68,192.74 L486.46,192.90 L487.25,193.45 L488.04,193.67 L488.83,194.28 L489.62,194.18 L490.41,194.62 L491.19,194.28 L491.98,194.49 L492.77,195.21 L493.56,194.86 L494.35,195.65 L495.14,195.84 L495.93,195.43 L496.71,195.83 L497.50,195.54 L498.29,196.04 L499.08,196.15 L499.87,196.99 L500.66,196.40 L501.44,197.43" fill="none" stroke="#2c4472" stroke-width="1.9" stroke-linejoin="round"/>
<path d="M375.30,225.09 L376.09,225.24 L376.88,224.64 L377.67,225.24 L378.45,224.68 L379.24,224.83 L380.03,225.14 L380.82,224.60 L381.61,225.09 L382.40,224.61 L383.18,224.98 L383.97,224.91 L384.76,224.49 L385.55,224.00 L386.34,224.73 L387.13,224.57 L387.91,224.06 L388.70,223.64 L389.49,223.99 L390.28,224.11 L391.07,223.39 L391.86,224.34 L392.64,223.33 L393.43,223.86 L394.22,223.91 L395.01,223.81 L395.80,223.47 L396.59,222.76 L397.38,223.33 L398.16,222.73 L398.95,222.51 L399.74,222.64 L400.53,222.28 L401.32,222.65 L402.11,222.47 L402.89,222.10 L403.68,221.34 L404.47,221.37 L405.26,221.22 L406.05,220.63 L406.84,220.48 L407.62,220.34 L408.41,219.47 L409.20,219.24 L409.99,219.39 L410.78,218.65 L411.57,218.30 L412.35,217.49 L413.14,217.20 L413.93,217.23 L414.72,215.97 L415.51,216.43 L416.30,215.60 L417.09,214.72 L417.87,214.90 L418.66,214.03 L419.45,214.06 L420.24,212.89 L421.03,212.31 L421.82,212.06 L422.60,211.26 L423.39,211.43 L424.18,210.54 L424.97,210.18 L425.76,209.73 L426.55,209.40 L427.33,208.50 L428.12,207.90 L428.91,207.92 L429.70,207.19 L430.49,207.34 L431.28,206.10 L432.06,205.64 L432.85,204.75 L433.64,204.46 L434.43,204.61 L435.22,204.08 L436.01,203.36 L436.80,203.69 L437.58,202.81 L438.37,202.77 L439.16,202.47 L439.95,202.19 L440.74,201.05 L441.53,201.43 L442.31,200.98 L443.10,200.50 L443.89,199.66 L444.68,200.24 L445.47,199.53 L446.26,199.13 L447.04,198.49 L447.83,198.32 L448.62,198.05 L449.41,198.52 L450.20,198.22 L450.99,198.16 L451.77,197.48 L452.56,197.31 L453.35,198.14 L454.14,198.06 L454.93,197.97 L455.72,197.95 L456.51,197.67 L457.29,197.57 L458.08,197.97 L458.87,198.31 L459.66,197.92 L460.45,198.05 L461.24,197.91 L462.02,197.57 L462.81,197.96 L463.60,198.25 L464.39,198.24 L465.18,198.28 L465.97,199.09 L466.75,198.25 L467.54,198.50 L468.33,198.52 L469.12,198.72 L469.91,199.30 L470.70,199.42 L471.48,199.88 L472.27,199.41 L473.06,200.18 L473.85,200.30 L474.64,200.27 L475.43,200.45 L476.22,200.38 L477.00,200.83 L477.79,201.02 L478.58,200.98 L479.37,201.16 L480.16,200.99 L480.95,201.48 L481.73,200.66 L482.52,201.07 L483.31,201.71 L484.10,201.72 L484.89,201.74 L485.68,201.84 L486.46,202.24 L487.25,201.55 L488.04,201.52 L488.83,202.23 L489.62,202.34 L490.41,202.91 L491.19,203.02 L491.98,202.88 L492.77,203.09 L493.56,202.59 L494.35,203.46 L495.14,203.74 L495.93,202.83 L496.71,203.43 L497.50,203.99 L498.29,203.67 L499.08,204.38 L499.87,203.94 L500.66,203.56 L501.44,203.82" fill="none" stroke="#372055" stroke-width="1.9" stroke-linejoin="round"/>
<path d="M375.30,224.92 L376.09,224.05 L376.88,224.94 L377.67,224.25 L378.45,224.91 L379.24,224.69 L380.03,223.81 L380.82,224.65 L381.61,224.13 L382.40,224.30 L383.18,224.27 L383.97,224.18 L384.76,224.47 L385.55,223.72 L386.34,224.49 L387.13,224.28 L387.91,224.46 L388.70,224.12 L389.49,223.90 L390.28,223.27 L391.07,223.77 L391.86,223.98 L392.64,223.73 L393.43,222.81 L394.22,223.73 L395.01,223.00 L395.80,223.14 L396.59,222.69 L397.38,222.91 L398.16,222.37 L398.95,222.42 L399.74,222.09 L400.53,221.63 L401.32,221.80 L402.11,222.09 L402.89,221.96 L403.68,220.73 L404.47,220.96 L405.26,220.95 L406.05,219.71 L406.84,219.64 L407.62,218.95 L408.41,218.24 L409.20,218.31 L409.99,217.54 L410.78,216.15 L411.57,216.00 L412.35,214.13 L413.14,213.43 L413.93,211.13 L414.72,209.33 L415.51,207.22 L416.30,205.53 L417.09,204.20 L417.87,202.96 L418.66,201.46 L419.45,199.50 L420.24,198.03 L421.03,197.08 L421.82,194.76 L422.60,193.88 L423.39,192.42 L424.18,191.78 L424.97,190.67 L425.76,189.96 L426.55,188.73 L427.33,188.11 L428.12,187.40 L428.91,187.06 L429.70,186.28 L430.49,186.05 L431.28,186.81 L432.06,186.64 L432.85,187.09 L433.64,186.80 L434.43,186.76 L435.22,187.96 L436.01,187.69 L436.80,188.58 L437.58,189.29 L438.37,188.84 L439.16,189.72 L439.95,190.31 L440.74,190.42 L441.53,191.06 L442.31,191.25 L443.10,191.60 L443.89,192.01 L444.68,192.20 L445.47,192.91 L446.26,193.50 L447.04,193.88 L447.83,194.23 L448.62,194.14 L449.41,194.68 L450.20,194.55 L450.99,195.25 L451.77,195.39 L452.56,195.44 L453.35,196.82 L454.14,197.22 L454.93,197.44 L455.72,197.52 L456.51,197.66 L457.29,197.83 L458.08,198.63 L458.87,198.30 L459.66,199.73 L460.45,199.15 L461.24,200.19 L462.02,199.79 L462.81,201.07 L463.60,200.35 L464.39,200.90 L465.18,200.95 L465.97,201.71 L466.75,202.45 L467.54,201.84 L468.33,202.69 L469.12,203.34 L469.91,203.00 L470.70,203.35 L471.48,203.60 L472.27,204.17 L473.06,204.41 L473.85,204.10 L474.64,204.44 L475.43,205.00 L476.22,204.84 L477.00,204.71 L477.79,204.90 L478.58,205.36 L479.37,205.63 L480.16,205.85 L480.95,206.19 L481.73,206.41 L482.52,206.31 L483.31,206.87 L484.10,206.36 L484.89,206.56 L485.68,206.84 L486.46,207.68 L487.25,207.47 L488.04,207.56 L488.83,208.11 L489.62,207.31 L490.41,207.71 L491.19,208.17 L491.98,208.11 L492.77,208.84 L493.56,208.98 L494.35,208.81 L495.14,208.74 L495.93,209.02 L496.71,209.90 L497.50,209.39 L498.29,209.23 L499.08,209.58 L499.87,209.55 L500.66,209.66 L501.44,210.68" fill="none" stroke="#ab1839" stroke-width="1.9" stroke-linejoin="round"/>
<line x1="375.20" y1="144.60" x2="375.20" y2="232.20" stroke="#111" stroke-width="1.3" stroke-linecap="butt"/>
<line x1="374.60" y1="231.60" x2="510.00" y2="231.60" stroke="#111" stroke-width="1.3" stroke-linecap="butt"/>
<line x1="371.20" y1="147.80" x2="375.20" y2="147.80" stroke="#111" stroke-width="1.1" stroke-linecap="butt"/>
<text x="0.00" y="0.00" font-size="8.2" text-anchor="end" fill="#1e1e1e" color="#1e1e1e" transform="translate(369.60 150.70) scale(1 1.080)">0.8</text>
<line x1="371.20" y1="175.73" x2="375.20" y2="175.73" stroke="#111" stroke-width="1.1" stroke-linecap="butt"/>
<text x="0.00" y="0.00" font-size="8.2" text-anchor="end" fill="#1e1e1e" color="#1e1e1e" transform="translate(369.60 178.63) scale(1 1.080)">0.6</text>
<line x1="371.20" y1="203.67" x2="375.20" y2="203.67" stroke="#111" stroke-width="1.1" stroke-linecap="butt"/>
<text x="0.00" y="0.00" font-size="8.2" text-anchor="end" fill="#1e1e1e" color="#1e1e1e" transform="translate(369.60 206.57) scale(1 1.080)">0.4</text>
<line x1="371.20" y1="231.60" x2="375.20" y2="231.60" stroke="#111" stroke-width="1.1" stroke-linecap="butt"/>
<text x="0.00" y="0.00" font-size="8.2" text-anchor="end" fill="#1e1e1e" color="#1e1e1e" transform="translate(369.60 234.50) scale(1 1.080)">0.2</text>
<line x1="375.30" y1="231.10" x2="375.30" y2="234.20" stroke="#111" stroke-width="1.1" stroke-linecap="butt"/>
<text x="0.00" y="0.00" font-size="7.6" text-anchor="middle" fill="#1e1e1e" color="#1e1e1e" transform="translate(375.30 244.50) scale(1 1.150)">0</text>
<line x1="401.58" y1="231.10" x2="401.58" y2="234.20" stroke="#111" stroke-width="1.1" stroke-linecap="butt"/>
<text x="0.00" y="0.00" font-size="7.6" text-anchor="middle" fill="#1e1e1e" color="#1e1e1e" transform="translate(401.58 244.50) scale(1 1.150)">50</text>
<line x1="427.86" y1="231.10" x2="427.86" y2="234.20" stroke="#111" stroke-width="1.1" stroke-linecap="butt"/>
<text x="0.00" y="0.00" font-size="7.6" text-anchor="middle" fill="#1e1e1e" color="#1e1e1e" transform="translate(427.86 244.50) scale(1 1.150)">100</text>
<line x1="454.14" y1="231.10" x2="454.14" y2="234.20" stroke="#111" stroke-width="1.1" stroke-linecap="butt"/>
<text x="0.00" y="0.00" font-size="7.6" text-anchor="middle" fill="#1e1e1e" color="#1e1e1e" transform="translate(454.14 244.50) scale(1 1.150)">150</text>
<line x1="480.42" y1="231.10" x2="480.42" y2="234.20" stroke="#111" stroke-width="1.1" stroke-linecap="butt"/>
<text x="0.00" y="0.00" font-size="7.6" text-anchor="middle" fill="#1e1e1e" color="#1e1e1e" transform="translate(480.42 244.50) scale(1 1.150)">200</text>
<line x1="506.70" y1="231.10" x2="506.70" y2="234.20" stroke="#111" stroke-width="1.1" stroke-linecap="butt"/>
<text x="0.00" y="0.00" font-size="7.6" text-anchor="middle" fill="#1e1e1e" color="#1e1e1e" transform="translate(506.70 244.50) scale(1 1.150)">250</text>
<text x="0.00" y="0.00" font-size="8.7" text-anchor="middle" fill="#1e1e1e" color="#1e1e1e" transform="translate(442.40 257.90) scale(1 1.100)">Time (s)</text>
<text x="0.00" y="0.00" font-size="8.05" text-anchor="middle" fill="#1e1e1e" color="#1e1e1e" transform="translate(352.30 187.70) scale(1 1.120) rotate(-90)">Indo-1 (405nm/530nm)</text>
<text x="378.40" y="154.40" font-size="7.6" text-anchor="start" fill="#46609a" color="#46609a">Daudi</text>
<text x="441.60" y="302.50" font-size="9.4" text-anchor="middle" fill="#111" color="#111" font-weight="bold">AT13387</text>
<path d="M374.30,319.20 L374.74,319.31 L375.18,319.36 L375.62,319.36 L376.06,319.37 L376.50,319.40 L376.93,319.49 L377.37,319.67 L377.81,319.98 L378.25,320.45 L378.69,321.10 L379.13,321.96 L379.57,322.98 L380.01,324.11 L380.45,325.33 L380.88,326.59 L381.32,327.84 L381.76,329.06 L382.20,330.19 L382.64,331.20 L383.08,332.18 L383.52,333.16 L383.96,334.13 L384.40,335.10 L384.84,336.07 L385.28,337.03 L385.71,337.98 L386.15,338.93 L386.59,339.87 L387.03,340.80 L387.47,341.71 L387.91,342.62 L388.35,343.51 L388.79,344.38 L389.23,345.24 L389.67,346.09 L390.10,346.91 L390.54,347.72 L390.98,348.50 L391.42,349.28 L391.86,350.04 L392.30,350.80 L392.74,351.54 L393.18,352.27 L393.62,352.99 L394.06,353.69 L394.49,354.38 L394.93,355.05 L395.37,355.71 L395.81,356.35 L396.25,356.97 L396.69,357.57 L397.13,358.15 L397.57,358.70 L398.01,359.24 L398.44,359.75 L398.88,360.24 L399.32,360.71 L399.76,361.15 L400.20,361.57 L400.64,361.98 L401.08,362.36 L401.52,362.72 L401.96,363.06 L402.40,363.39 L402.83,363.69 L403.27,363.98 L403.71,364.24 L404.15,364.49 L404.59,364.72 L405.03,364.94 L405.47,365.13 L405.91,365.31 L406.35,365.47 L406.79,365.62 L407.22,365.75 L407.66,365.87 L408.10,365.98 L408.54,366.09 L408.98,366.19 L409.42,366.29 L409.86,366.38 L410.30,366.46 L410.74,366.54 L411.18,366.62 L411.61,366.69 L412.05,366.75 L412.49,366.82 L412.93,366.87 L413.37,366.92 L413.81,366.97 L414.25,367.02 L414.69,367.06 L415.13,367.09 L415.57,367.13 L416.00,367.15 L416.44,367.18 L416.88,367.20 L417.32,367.22 L417.76,367.24 L418.20,367.25 L418.64,367.26 L419.08,367.27 L419.52,367.27 L419.96,367.28 L420.39,367.28 L420.83,367.27 L421.27,367.27 L421.71,367.27 L422.15,367.26 L422.59,367.25 L423.03,367.24 L423.47,367.23 L423.91,367.21 L424.35,367.19 L424.79,367.16 L425.22,367.13 L425.66,367.09 L426.10,367.04 L426.54,366.99 L426.98,366.93 L427.42,366.87 L427.86,366.80 L428.30,366.73 L428.74,366.65 L429.18,366.57 L429.61,366.49 L430.05,366.41 L430.49,366.32 L430.93,366.24 L431.37,366.15 L431.81,366.06 L432.25,365.97 L432.69,365.88 L433.13,365.79 L433.57,365.70 L434.00,365.62 L434.44,365.53 L434.88,365.45 L435.32,365.37 L435.76,365.29 L436.20,365.22 L436.64,365.15 L437.08,365.08 L437.52,365.02 L437.96,364.96 L438.39,364.91 L438.83,364.87 L439.27,364.83 L439.71,364.80 L440.15,364.77 L440.59,364.75 L441.03,364.73 L441.47,364.71 L441.91,364.69 L442.35,364.67 L442.78,364.66 L443.22,364.64 L443.66,364.63 L444.10,364.61 L444.54,364.60 L444.98,364.59 L445.42,364.58 L445.86,364.57 L446.30,364.56 L446.74,364.55 L447.17,364.54 L447.61,364.53 L448.05,364.53 L448.49,364.52 L448.93,364.52 L449.37,364.51 L449.81,364.51 L450.25,364.51 L450.69,364.50 L451.13,364.50 L451.56,364.50 L452.00,364.50 L452.44,364.50 L452.88,364.50 L453.32,364.50 L453.76,364.50 L454.20,364.50 L454.64,364.50 L455.08,364.51 L455.52,364.51 L455.95,364.51 L456.39,364.52 L456.83,364.52 L457.27,364.53 L457.71,364.53 L458.15,364.54 L458.59,364.54 L459.03,364.55 L459.47,364.55 L459.91,364.56 L460.34,364.57 L460.78,364.57 L461.22,364.58 L461.66,364.59 L462.10,364.59 L462.54,364.60 L462.98,364.61 L463.42,364.62 L463.86,364.62 L464.30,364.63 L464.73,364.64 L465.17,364.65 L465.61,364.66 L466.05,364.66 L466.49,364.67 L466.93,364.68 L467.37,364.69 L467.81,364.69 L468.25,364.70 L468.69,364.71 L469.12,364.72 L469.56,364.72 L470.00,364.73 L470.44,364.74 L470.88,364.74 L471.32,364.75 L471.76,364.75 L472.20,364.76 L472.64,364.76 L473.08,364.77 L473.51,364.78 L473.95,364.78 L474.39,364.79 L474.83,364.79 L475.27,364.80 L475.71,364.80 L476.15,364.81 L476.59,364.82 L477.03,364.82 L477.46,364.83 L477.90,364.84 L478.34,364.85 L478.78,364.85 L479.22,364.86 L479.66,364.87 L480.10,364.88 L480.54,364.89 L480.98,364.90 L481.42,364.90 L481.85,364.91 L482.29,364.92 L482.73,364.93 L483.17,364.94 L483.61,364.95 L484.05,364.96 L484.49,364.97 L484.93,364.98 L485.37,364.99 L485.81,365.00 L486.24,365.01 L486.68,365.02 L487.12,365.03 L487.56,365.04 L488.00,365.05 L488.44,365.06 L488.88,365.08 L489.32,365.09 L489.76,365.10 L490.20,365.11 L490.63,365.12 L491.07,365.13 L491.51,365.14 L491.95,365.15 L492.39,365.16 L492.83,365.18 L493.27,365.19 L493.71,365.20 L494.15,365.21 L494.59,365.22 L495.02,365.23 L495.46,365.24 L495.90,365.26 L496.34,365.27 L496.78,365.28 L497.22,365.29 L497.66,365.30 L498.10,365.31 L498.54,365.32 L498.98,365.34 L499.41,365.35 L499.85,365.36 L500.29,365.37 L500.73,365.38 L501.17,365.39 L501.61,365.40 L502.05,365.41 L502.49,365.42 L502.93,365.43 L503.37,365.44 L503.80,365.45 L504.24,365.46 L504.68,365.48 L505.12,365.49 L505.56,365.50 L506.00,365.50" fill="none" stroke="#a0183a" stroke-width="1.9" stroke-linejoin="round"/>
<rect x="373.20" y="318.10" width="2.2" height="2.2" fill="#a0183a" opacity="0.9"/>
<rect x="377.32" y="319.57" width="2.2" height="2.2" fill="#a0183a" opacity="0.9"/>
<rect x="381.43" y="329.86" width="2.2" height="2.2" fill="#a0183a" opacity="0.9"/>
<rect x="389.66" y="347.01" width="2.2" height="2.2" fill="#a0183a" opacity="0.9"/>
<rect x="397.89" y="359.26" width="2.2" height="2.2" fill="#a0183a" opacity="0.9"/>
<rect x="406.12" y="364.65" width="2.2" height="2.2" fill="#a0183a" opacity="0.9"/>
<rect x="422.59" y="366.12" width="2.2" height="2.2" fill="#a0183a" opacity="0.9"/>
<rect x="439.05" y="363.67" width="2.2" height="2.2" fill="#a0183a" opacity="0.9"/>
<rect x="471.97" y="363.67" width="2.2" height="2.2" fill="#a0183a" opacity="0.9"/>
<rect x="504.90" y="364.40" width="2.2" height="2.2" fill="#a0183a" opacity="0.9"/>
<path d="M374.30,319.20 L374.74,320.10 L375.18,321.01 L375.62,321.93 L376.06,322.86 L376.50,323.77 L376.93,324.68 L377.37,325.56 L377.81,326.41 L378.25,327.23 L378.69,328.00 L379.13,328.71 L379.57,329.36 L380.01,329.99 L380.45,330.60 L380.88,331.21 L381.32,331.85 L381.76,332.54 L382.20,333.29 L382.64,334.11 L383.08,335.00 L383.52,335.92 L383.96,336.88 L384.40,337.86 L384.84,338.86 L385.28,339.88 L385.71,340.91 L386.15,341.94 L386.59,342.97 L387.03,343.99 L387.47,345.00 L387.91,345.99 L388.35,346.95 L388.79,347.88 L389.23,348.78 L389.67,349.63 L390.10,350.43 L390.54,351.19 L390.98,351.88 L391.42,352.54 L391.86,353.15 L392.30,353.74 L392.74,354.29 L393.18,354.81 L393.62,355.31 L394.06,355.78 L394.49,356.22 L394.93,356.64 L395.37,357.05 L395.81,357.43 L396.25,357.80 L396.69,358.16 L397.13,358.50 L397.57,358.83 L398.01,359.16 L398.44,359.48 L398.88,359.79 L399.32,360.10 L399.76,360.40 L400.20,360.68 L400.64,360.95 L401.08,361.21 L401.52,361.45 L401.96,361.68 L402.40,361.89 L402.83,362.09 L403.27,362.28 L403.71,362.45 L404.15,362.60 L404.59,362.75 L405.03,362.88 L405.47,362.99 L405.91,363.09 L406.35,363.17 L406.79,363.24 L407.22,363.30 L407.66,363.34 L408.10,363.38 L408.54,363.42 L408.98,363.44 L409.42,363.46 L409.86,363.48 L410.30,363.49 L410.74,363.50 L411.18,363.50 L411.61,363.50 L412.05,363.49 L412.49,363.48 L412.93,363.47 L413.37,363.45 L413.81,363.43 L414.25,363.41 L414.69,363.38 L415.13,363.35 L415.57,363.32 L416.00,363.28 L416.44,363.25 L416.88,363.21 L417.32,363.17 L417.76,363.13 L418.20,363.09 L418.64,363.05 L419.08,363.00 L419.52,362.96 L419.96,362.92 L420.39,362.87 L420.83,362.83 L421.27,362.78 L421.71,362.74 L422.15,362.70 L422.59,362.66 L423.03,362.62 L423.47,362.58 L423.91,362.55 L424.35,362.51 L424.79,362.46 L425.22,362.41 L425.66,362.36 L426.10,362.31 L426.54,362.25 L426.98,362.19 L427.42,362.13 L427.86,362.06 L428.30,362.00 L428.74,361.93 L429.18,361.86 L429.61,361.79 L430.05,361.72 L430.49,361.65 L430.93,361.58 L431.37,361.51 L431.81,361.44 L432.25,361.38 L432.69,361.31 L433.13,361.24 L433.57,361.18 L434.00,361.11 L434.44,361.05 L434.88,361.00 L435.32,360.94 L435.76,360.89 L436.20,360.84 L436.64,360.80 L437.08,360.76 L437.52,360.72 L437.96,360.69 L438.39,360.66 L438.83,360.64 L439.27,360.62 L439.71,360.61 L440.15,360.60 L440.59,360.60 L441.03,360.60 L441.47,360.60 L441.91,360.61 L442.35,360.61 L442.78,360.61 L443.22,360.62 L443.66,360.62 L444.10,360.63 L444.54,360.64 L444.98,360.65 L445.42,360.66 L445.86,360.67 L446.30,360.68 L446.74,360.70 L447.17,360.71 L447.61,360.72 L448.05,360.74 L448.49,360.76 L448.93,360.77 L449.37,360.79 L449.81,360.81 L450.25,360.83 L450.69,360.85 L451.13,360.87 L451.56,360.89 L452.00,360.91 L452.44,360.94 L452.88,360.96 L453.32,360.99 L453.76,361.01 L454.20,361.03 L454.64,361.06 L455.08,361.09 L455.52,361.11 L455.95,361.14 L456.39,361.17 L456.83,361.20 L457.27,361.22 L457.71,361.25 L458.15,361.28 L458.59,361.31 L459.03,361.34 L459.47,361.37 L459.91,361.40 L460.34,361.43 L460.78,361.46 L461.22,361.49 L461.66,361.52 L462.10,361.55 L462.54,361.59 L462.98,361.62 L463.42,361.65 L463.86,361.68 L464.30,361.71 L464.73,361.74 L465.17,361.78 L465.61,361.81 L466.05,361.84 L466.49,361.87 L466.93,361.90 L467.37,361.93 L467.81,361.96 L468.25,361.99 L468.69,362.03 L469.12,362.06 L469.56,362.09 L470.00,362.12 L470.44,362.15 L470.88,362.18 L471.32,362.21 L471.76,362.23 L472.20,362.26 L472.64,362.29 L473.08,362.32 L473.51,362.35 L473.95,362.38 L474.39,362.40 L474.83,362.43 L475.27,362.46 L475.71,362.49 L476.15,362.52 L476.59,362.55 L477.03,362.58 L477.46,362.61 L477.90,362.64 L478.34,362.67 L478.78,362.70 L479.22,362.73 L479.66,362.76 L480.10,362.79 L480.54,362.83 L480.98,362.86 L481.42,362.89 L481.85,362.92 L482.29,362.95 L482.73,362.98 L483.17,363.02 L483.61,363.05 L484.05,363.08 L484.49,363.11 L484.93,363.15 L485.37,363.18 L485.81,363.21 L486.24,363.25 L486.68,363.28 L487.12,363.31 L487.56,363.35 L488.00,363.38 L488.44,363.41 L488.88,363.45 L489.32,363.48 L489.76,363.52 L490.20,363.55 L490.63,363.58 L491.07,363.62 L491.51,363.65 L491.95,363.69 L492.39,363.72 L492.83,363.75 L493.27,363.79 L493.71,363.82 L494.15,363.86 L494.59,363.89 L495.02,363.93 L495.46,363.96 L495.90,363.99 L496.34,364.03 L496.78,364.06 L497.22,364.10 L497.66,364.13 L498.10,364.17 L498.54,364.20 L498.98,364.23 L499.41,364.27 L499.85,364.30 L500.29,364.34 L500.73,364.37 L501.17,364.40 L501.61,364.44 L502.05,364.47 L502.49,364.50 L502.93,364.54 L503.37,364.57 L503.80,364.61 L504.24,364.64 L504.68,364.67 L505.12,364.70 L505.56,364.74 L506.00,364.77" fill="none" stroke="#26395f" stroke-width="1.9" stroke-linejoin="round"/>
<rect x="373.20" y="318.10" width="2.2" height="2.2" fill="#26395f" opacity="0.9"/>
<rect x="377.32" y="326.43" width="2.2" height="2.2" fill="#26395f" opacity="0.9"/>
<rect x="381.43" y="332.80" width="2.2" height="2.2" fill="#26395f" opacity="0.9"/>
<rect x="389.66" y="350.44" width="2.2" height="2.2" fill="#26395f" opacity="0.9"/>
<rect x="397.89" y="358.77" width="2.2" height="2.2" fill="#26395f" opacity="0.9"/>
<rect x="406.12" y="362.20" width="2.2" height="2.2" fill="#26395f" opacity="0.9"/>
<rect x="422.59" y="361.46" width="2.2" height="2.2" fill="#26395f" opacity="0.9"/>
<rect x="439.05" y="359.50" width="2.2" height="2.2" fill="#26395f" opacity="0.9"/>
<rect x="471.97" y="361.22" width="2.2" height="2.2" fill="#26395f" opacity="0.9"/>
<rect x="504.90" y="363.67" width="2.2" height="2.2" fill="#26395f" opacity="0.9"/>
<line x1="374.60" y1="306.80" x2="374.60" y2="368.80" stroke="#111" stroke-width="1.2" stroke-linecap="butt"/>
<line x1="374.00" y1="368.20" x2="509.00" y2="368.20" stroke="#111" stroke-width="1.3" stroke-linecap="butt"/>
<line x1="371.40" y1="368.20" x2="374.60" y2="368.20" stroke="#111" stroke-width="1.1" stroke-linecap="butt"/>
<text x="0.00" y="0.00" font-size="7.6" text-anchor="end" fill="#1e1e1e" color="#1e1e1e" transform="translate(368.20 371.10) scale(1 1.150)">0</text>
<line x1="371.40" y1="358.40" x2="374.60" y2="358.40" stroke="#111" stroke-width="1.1" stroke-linecap="butt"/>
<text x="0.00" y="0.00" font-size="7.6" text-anchor="end" fill="#1e1e1e" color="#1e1e1e" transform="translate(368.20 361.30) scale(1 1.150)">0.2</text>
<line x1="371.40" y1="348.60" x2="374.60" y2="348.60" stroke="#111" stroke-width="1.1" stroke-linecap="butt"/>
<text x="0.00" y="0.00" font-size="7.6" text-anchor="end" fill="#1e1e1e" color="#1e1e1e" transform="translate(368.20 351.50) scale(1 1.150)">0.4</text>
<line x1="371.40" y1="338.80" x2="374.60" y2="338.80" stroke="#111" stroke-width="1.1" stroke-linecap="butt"/>
<text x="0.00" y="0.00" font-size="7.6" text-anchor="end" fill="#1e1e1e" color="#1e1e1e" transform="translate(368.20 341.70) scale(1 1.150)">0.6</text>
<line x1="371.40" y1="329.00" x2="374.60" y2="329.00" stroke="#111" stroke-width="1.1" stroke-linecap="butt"/>
<text x="0.00" y="0.00" font-size="7.6" text-anchor="end" fill="#1e1e1e" color="#1e1e1e" transform="translate(368.20 331.90) scale(1 1.150)">0.8</text>
<line x1="371.40" y1="319.20" x2="374.60" y2="319.20" stroke="#111" stroke-width="1.1" stroke-linecap="butt"/>
<text x="0.00" y="0.00" font-size="7.6" text-anchor="end" fill="#1e1e1e" color="#1e1e1e" transform="translate(368.20 322.10) scale(1 1.150)">1</text>
<line x1="371.40" y1="309.40" x2="374.60" y2="309.40" stroke="#111" stroke-width="1.1" stroke-linecap="butt"/>
<text x="0.00" y="0.00" font-size="7.6" text-anchor="end" fill="#1e1e1e" color="#1e1e1e" transform="translate(368.20 312.30) scale(1 1.150)">1.2</text>
<line x1="374.30" y1="367.70" x2="374.30" y2="370.80" stroke="#111" stroke-width="1.1" stroke-linecap="butt"/>
<text x="0.00" y="0.00" font-size="7.6" text-anchor="middle" fill="#1e1e1e" color="#1e1e1e" transform="translate(374.30 381.30) scale(1 1.150)">0</text>
<line x1="390.76" y1="367.70" x2="390.76" y2="370.80" stroke="#111" stroke-width="1.1" stroke-linecap="butt"/>
<text x="0.00" y="0.00" font-size="7.6" text-anchor="middle" fill="#1e1e1e" color="#1e1e1e" transform="translate(390.76 381.30) scale(1 1.150)">50</text>
<line x1="407.23" y1="367.70" x2="407.23" y2="370.80" stroke="#111" stroke-width="1.1" stroke-linecap="butt"/>
<text x="0.00" y="0.00" font-size="7.6" text-anchor="middle" fill="#1e1e1e" color="#1e1e1e" transform="translate(407.23 381.30) scale(1 1.150)">100</text>
<line x1="423.69" y1="367.70" x2="423.69" y2="370.80" stroke="#111" stroke-width="1.1" stroke-linecap="butt"/>
<text x="0.00" y="0.00" font-size="7.6" text-anchor="middle" fill="#1e1e1e" color="#1e1e1e" transform="translate(423.69 381.30) scale(1 1.150)">150</text>
<line x1="440.15" y1="367.70" x2="440.15" y2="370.80" stroke="#111" stroke-width="1.1" stroke-linecap="butt"/>
<text x="0.00" y="0.00" font-size="7.6" text-anchor="middle" fill="#1e1e1e" color="#1e1e1e" transform="translate(440.15 381.30) scale(1 1.150)">200</text>
<line x1="456.61" y1="367.70" x2="456.61" y2="370.80" stroke="#111" stroke-width="1.1" stroke-linecap="butt"/>
<text x="0.00" y="0.00" font-size="7.6" text-anchor="middle" fill="#1e1e1e" color="#1e1e1e" transform="translate(456.61 381.30) scale(1 1.150)">250</text>
<line x1="473.07" y1="367.70" x2="473.07" y2="370.80" stroke="#111" stroke-width="1.1" stroke-linecap="butt"/>
<text x="0.00" y="0.00" font-size="7.6" text-anchor="middle" fill="#1e1e1e" color="#1e1e1e" transform="translate(473.07 381.30) scale(1 1.150)">300</text>
<line x1="489.54" y1="367.70" x2="489.54" y2="370.80" stroke="#111" stroke-width="1.1" stroke-linecap="butt"/>
<text x="0.00" y="0.00" font-size="7.6" text-anchor="middle" fill="#1e1e1e" color="#1e1e1e" transform="translate(489.54 381.30) scale(1 1.150)">350</text>
<line x1="506.00" y1="367.70" x2="506.00" y2="370.80" stroke="#111" stroke-width="1.1" stroke-linecap="butt"/>
<text x="0.00" y="0.00" font-size="7.6" text-anchor="middle" fill="#1e1e1e" color="#1e1e1e" transform="translate(506.00 381.30) scale(1 1.150)">400</text>
<text x="0.00" y="0.00" font-size="8.75" text-anchor="middle" fill="#1e1e1e" color="#1e1e1e" transform="translate(441.50 394.50) scale(1 1.140)">Concentration (nM)</text>
<text x="0.00" y="0.00" font-size="7.55" text-anchor="middle" fill="#1e1e1e" color="#1e1e1e" transform="translate(350.90 337.40) scale(1 1.130) rotate(-90)">Relative viability</text>
<line x1="472.40" y1="317.20" x2="480.80" y2="317.20" stroke="#9a1d40" stroke-width="1.7" stroke-linecap="butt"/>
<text x="484.60" y="320.00" font-size="7.7" text-anchor="start" fill="#1e1e1e" color="#1e1e1e">TMD8</text>
<line x1="472.40" y1="327.20" x2="480.80" y2="327.20" stroke="#2f4468" stroke-width="1.7" stroke-linecap="butt"/>
<text x="484.60" y="330.00" font-size="7.7" text-anchor="start" fill="#1e1e1e" color="#1e1e1e">LY10</text>
<text x="441.60" y="412.60" font-size="9.4" text-anchor="middle" fill="#111" color="#111" font-weight="bold">STA-9090</text>
<path d="M374.60,428.53 L375.04,428.21 L375.47,427.85 L375.91,427.48 L376.35,427.11 L376.78,426.75 L377.22,426.42 L377.65,426.12 L378.09,425.88 L378.53,425.70 L378.96,425.59 L379.40,425.53 L379.84,425.50 L380.27,425.52 L380.71,425.59 L381.15,425.69 L381.58,425.84 L382.02,426.03 L382.45,426.27 L382.89,426.55 L383.33,426.85 L383.76,427.16 L384.20,427.49 L384.64,427.83 L385.07,428.18 L385.51,428.54 L385.94,428.91 L386.38,429.29 L386.82,429.68 L387.25,430.09 L387.69,430.50 L388.13,430.92 L388.56,431.35 L389.00,431.79 L389.44,432.24 L389.87,432.70 L390.31,433.17 L390.74,433.64 L391.18,434.13 L391.62,434.66 L392.05,435.24 L392.49,435.86 L392.93,436.51 L393.36,437.20 L393.80,437.91 L394.24,438.64 L394.67,439.39 L395.11,440.16 L395.54,440.96 L395.98,441.81 L396.42,442.70 L396.85,443.61 L397.29,444.53 L397.73,445.45 L398.16,446.36 L398.60,447.24 L399.03,448.09 L399.47,448.90 L399.91,449.72 L400.34,450.52 L400.78,451.32 L401.22,452.10 L401.65,452.85 L402.09,453.58 L402.53,454.26 L402.96,454.91 L403.40,455.51 L403.83,456.08 L404.27,456.61 L404.71,457.11 L405.14,457.58 L405.58,458.01 L406.02,458.41 L406.45,458.78 L406.89,459.11 L407.33,459.41 L407.76,459.68 L408.20,459.95 L408.63,460.20 L409.07,460.45 L409.51,460.68 L409.94,460.91 L410.38,461.13 L410.82,461.34 L411.25,461.54 L411.69,461.74 L412.12,461.92 L412.56,462.10 L413.00,462.27 L413.43,462.44 L413.87,462.59 L414.31,462.74 L414.74,462.88 L415.18,463.02 L415.62,463.14 L416.05,463.26 L416.49,463.37 L416.92,463.47 L417.36,463.56 L417.80,463.64 L418.23,463.71 L418.67,463.78 L419.11,463.83 L419.54,463.88 L419.98,463.93 L420.41,463.97 L420.85,464.00 L421.29,464.03 L421.72,464.06 L422.16,464.08 L422.60,464.10 L423.03,464.12 L423.47,464.14 L423.91,464.15 L424.34,464.16 L424.78,464.17 L425.21,464.17 L425.65,464.18 L426.09,464.18 L426.52,464.17 L426.96,464.17 L427.40,464.16 L427.83,464.15 L428.27,464.14 L428.71,464.13 L429.14,464.11 L429.58,464.10 L430.01,464.08 L430.45,464.07 L430.89,464.05 L431.32,464.04 L431.76,464.02 L432.20,464.00 L432.63,463.98 L433.07,463.97 L433.50,463.95 L433.94,463.94 L434.38,463.93 L434.81,463.91 L435.25,463.90 L435.69,463.89 L436.12,463.89 L436.56,463.88 L437.00,463.88 L437.43,463.88 L437.87,463.88 L438.30,463.88 L438.74,463.89 L439.18,463.90 L439.61,463.92 L440.05,463.94 L440.49,463.96 L440.92,463.98 L441.36,464.00 L441.80,464.02 L442.23,464.05 L442.67,464.07 L443.10,464.10 L443.54,464.12 L443.98,464.15 L444.41,464.17 L444.85,464.20 L445.29,464.23 L445.72,464.26 L446.16,464.29 L446.59,464.32 L447.03,464.35 L447.47,464.38 L447.90,464.41 L448.34,464.44 L448.78,464.47 L449.21,464.51 L449.65,464.54 L450.09,464.57 L450.52,464.61 L450.96,464.64 L451.39,464.68 L451.83,464.71 L452.27,464.74 L452.70,464.78 L453.14,464.82 L453.58,464.85 L454.01,464.89 L454.45,464.92 L454.89,464.96 L455.32,465.00 L455.76,465.03 L456.19,465.07 L456.63,465.11 L457.07,465.15 L457.50,465.18 L457.94,465.22 L458.38,465.26 L458.81,465.30 L459.25,465.33 L459.68,465.37 L460.12,465.41 L460.56,465.45 L460.99,465.48 L461.43,465.52 L461.87,465.56 L462.30,465.60 L462.74,465.63 L463.18,465.67 L463.61,465.71 L464.05,465.74 L464.48,465.78 L464.92,465.81 L465.36,465.85 L465.79,465.89 L466.23,465.92 L466.67,465.96 L467.10,465.99 L467.54,466.03 L467.98,466.06 L468.41,466.09 L468.85,466.13 L469.28,466.16 L469.72,466.19 L470.16,466.22 L470.59,466.26 L471.03,466.29 L471.47,466.32 L471.90,466.35 L472.34,466.38 L472.77,466.41 L473.21,466.44 L473.65,466.46 L474.08,466.49 L474.52,466.52 L474.96,466.55 L475.39,466.58 L475.83,466.60 L476.27,466.63 L476.70,466.66 L477.14,466.68 L477.57,466.71 L478.01,466.74 L478.45,466.76 L478.88,466.79 L479.32,466.82 L479.76,466.84 L480.19,466.87 L480.63,466.89 L481.07,466.92 L481.50,466.94 L481.94,466.97 L482.37,467.00 L482.81,467.02 L483.25,467.05 L483.68,467.07 L484.12,467.09 L484.56,467.12 L484.99,467.14 L485.43,467.17 L485.86,467.19 L486.30,467.22 L486.74,467.24 L487.17,467.26 L487.61,467.29 L488.05,467.31 L488.48,467.34 L488.92,467.36 L489.36,467.38 L489.79,467.41 L490.23,467.43 L490.66,467.45 L491.10,467.48 L491.54,467.50 L491.97,467.52 L492.41,467.55 L492.85,467.57 L493.28,467.59 L493.72,467.62 L494.16,467.64 L494.59,467.66 L495.03,467.69 L495.46,467.71 L495.90,467.73 L496.34,467.76 L496.77,467.78 L497.21,467.80 L497.65,467.83 L498.08,467.85 L498.52,467.88 L498.95,467.90 L499.39,467.92 L499.83,467.95 L500.26,467.97 L500.70,467.99 L501.14,468.02 L501.57,468.04 L502.01,468.06 L502.45,468.09 L502.88,468.11 L503.32,468.14 L503.75,468.16 L504.19,468.19 L504.63,468.21 L505.06,468.23 L505.50,468.26" fill="none" stroke="#a0183a" stroke-width="1.9" stroke-linejoin="round"/>
<rect x="373.50" y="427.43" width="2.2" height="2.2" fill="#a0183a" opacity="0.9"/>
<rect x="377.59" y="424.55" width="2.2" height="2.2" fill="#a0183a" opacity="0.9"/>
<rect x="381.68" y="425.38" width="2.2" height="2.2" fill="#a0183a" opacity="0.9"/>
<rect x="389.86" y="432.78" width="2.2" height="2.2" fill="#a0183a" opacity="0.9"/>
<rect x="393.95" y="438.96" width="2.2" height="2.2" fill="#a0183a" opacity="0.9"/>
<rect x="398.04" y="447.19" width="2.2" height="2.2" fill="#a0183a" opacity="0.9"/>
<rect x="402.13" y="454.19" width="2.2" height="2.2" fill="#a0183a" opacity="0.9"/>
<rect x="406.23" y="458.31" width="2.2" height="2.2" fill="#a0183a" opacity="0.9"/>
<rect x="414.41" y="462.01" width="2.2" height="2.2" fill="#a0183a" opacity="0.9"/>
<rect x="422.59" y="463.04" width="2.2" height="2.2" fill="#a0183a" opacity="0.9"/>
<rect x="438.95" y="462.84" width="2.2" height="2.2" fill="#a0183a" opacity="0.9"/>
<rect x="471.68" y="465.31" width="2.2" height="2.2" fill="#a0183a" opacity="0.9"/>
<rect x="504.40" y="467.16" width="2.2" height="2.2" fill="#a0183a" opacity="0.9"/>
<path d="M374.60,428.53 L375.04,428.70 L375.47,428.87 L375.91,429.03 L376.35,429.19 L376.78,429.36 L377.22,429.53 L377.65,429.70 L378.09,429.89 L378.53,430.10 L378.96,430.32 L379.40,430.55 L379.84,430.80 L380.27,431.05 L380.71,431.31 L381.15,431.58 L381.58,431.86 L382.02,432.14 L382.45,432.43 L382.89,432.72 L383.33,433.01 L383.76,433.28 L384.20,433.56 L384.64,433.82 L385.07,434.08 L385.51,434.35 L385.94,434.61 L386.38,434.88 L386.82,435.15 L387.25,435.44 L387.69,435.73 L388.13,436.03 L388.56,436.34 L389.00,436.68 L389.44,437.02 L389.87,437.39 L390.31,437.78 L390.74,438.20 L391.18,438.64 L391.62,439.17 L392.05,439.77 L392.49,440.44 L392.93,441.16 L393.36,441.91 L393.80,442.70 L394.24,443.50 L394.67,444.30 L395.11,445.10 L395.54,445.92 L395.98,446.80 L396.42,447.70 L396.85,448.62 L397.29,449.55 L397.73,450.47 L398.16,451.36 L398.60,452.23 L399.03,453.04 L399.47,453.81 L399.91,454.55 L400.34,455.28 L400.78,455.99 L401.22,456.67 L401.65,457.32 L402.09,457.95 L402.53,458.53 L402.96,459.08 L403.40,459.60 L403.83,460.07 L404.27,460.51 L404.71,460.91 L405.14,461.28 L405.58,461.62 L406.02,461.93 L406.45,462.21 L406.89,462.47 L407.33,462.70 L407.76,462.92 L408.20,463.13 L408.63,463.34 L409.07,463.54 L409.51,463.74 L409.94,463.93 L410.38,464.11 L410.82,464.29 L411.25,464.45 L411.69,464.61 L412.12,464.76 L412.56,464.91 L413.00,465.04 L413.43,465.16 L413.87,465.27 L414.31,465.37 L414.74,465.46 L415.18,465.53 L415.62,465.60 L416.05,465.64 L416.49,465.67 L416.92,465.68 L417.36,465.68 L417.80,465.66 L418.23,465.63 L418.67,465.59 L419.11,465.55 L419.54,465.49 L419.98,465.43 L420.41,465.37 L420.85,465.31 L421.29,465.24 L421.72,465.18 L422.16,465.12 L422.60,465.07 L423.03,465.02 L423.47,464.98 L423.91,464.95 L424.34,464.92 L424.78,464.89 L425.21,464.85 L425.65,464.82 L426.09,464.78 L426.52,464.74 L426.96,464.71 L427.40,464.67 L427.83,464.63 L428.27,464.59 L428.71,464.55 L429.14,464.51 L429.58,464.47 L430.01,464.43 L430.45,464.39 L430.89,464.35 L431.32,464.31 L431.76,464.27 L432.20,464.24 L432.63,464.20 L433.07,464.17 L433.50,464.13 L433.94,464.10 L434.38,464.07 L434.81,464.05 L435.25,464.02 L435.69,464.00 L436.12,463.98 L436.56,463.96 L437.00,463.95 L437.43,463.94 L437.87,463.93 L438.30,463.92 L438.74,463.92 L439.18,463.92 L439.61,463.93 L440.05,463.94 L440.49,463.95 L440.92,463.96 L441.36,463.97 L441.80,463.99 L442.23,464.00 L442.67,464.02 L443.10,464.04 L443.54,464.06 L443.98,464.08 L444.41,464.10 L444.85,464.12 L445.29,464.14 L445.72,464.16 L446.16,464.19 L446.59,464.21 L447.03,464.24 L447.47,464.26 L447.90,464.29 L448.34,464.32 L448.78,464.34 L449.21,464.37 L449.65,464.40 L450.09,464.43 L450.52,464.46 L450.96,464.49 L451.39,464.52 L451.83,464.56 L452.27,464.59 L452.70,464.62 L453.14,464.65 L453.58,464.69 L454.01,464.72 L454.45,464.76 L454.89,464.79 L455.32,464.83 L455.76,464.86 L456.19,464.90 L456.63,464.93 L457.07,464.97 L457.50,465.00 L457.94,465.04 L458.38,465.08 L458.81,465.11 L459.25,465.15 L459.68,465.19 L460.12,465.22 L460.56,465.26 L460.99,465.30 L461.43,465.33 L461.87,465.37 L462.30,465.41 L462.74,465.44 L463.18,465.48 L463.61,465.52 L464.05,465.55 L464.48,465.59 L464.92,465.62 L465.36,465.66 L465.79,465.69 L466.23,465.73 L466.67,465.76 L467.10,465.80 L467.54,465.83 L467.98,465.86 L468.41,465.90 L468.85,465.93 L469.28,465.96 L469.72,465.99 L470.16,466.03 L470.59,466.06 L471.03,466.09 L471.47,466.12 L471.90,466.14 L472.34,466.17 L472.77,466.20 L473.21,466.23 L473.65,466.26 L474.08,466.28 L474.52,466.31 L474.96,466.34 L475.39,466.36 L475.83,466.39 L476.27,466.42 L476.70,466.44 L477.14,466.47 L477.57,466.49 L478.01,466.52 L478.45,466.55 L478.88,466.57 L479.32,466.60 L479.76,466.62 L480.19,466.65 L480.63,466.67 L481.07,466.70 L481.50,466.72 L481.94,466.75 L482.37,466.77 L482.81,466.80 L483.25,466.82 L483.68,466.85 L484.12,466.87 L484.56,466.90 L484.99,466.92 L485.43,466.95 L485.86,466.97 L486.30,467.00 L486.74,467.02 L487.17,467.04 L487.61,467.07 L488.05,467.09 L488.48,467.12 L488.92,467.14 L489.36,467.16 L489.79,467.19 L490.23,467.21 L490.66,467.24 L491.10,467.26 L491.54,467.28 L491.97,467.31 L492.41,467.33 L492.85,467.36 L493.28,467.38 L493.72,467.40 L494.16,467.43 L494.59,467.45 L495.03,467.47 L495.46,467.50 L495.90,467.52 L496.34,467.55 L496.77,467.57 L497.21,467.59 L497.65,467.62 L498.08,467.64 L498.52,467.67 L498.95,467.69 L499.39,467.71 L499.83,467.74 L500.26,467.76 L500.70,467.79 L501.14,467.81 L501.57,467.83 L502.01,467.86 L502.45,467.88 L502.88,467.91 L503.32,467.93 L503.75,467.96 L504.19,467.98 L504.63,468.00 L505.06,468.03 L505.50,468.05" fill="none" stroke="#26395f" stroke-width="1.9" stroke-linejoin="round"/>
<rect x="373.50" y="427.43" width="2.2" height="2.2" fill="#26395f" opacity="0.9"/>
<rect x="377.59" y="429.08" width="2.2" height="2.2" fill="#26395f" opacity="0.9"/>
<rect x="381.68" y="431.55" width="2.2" height="2.2" fill="#26395f" opacity="0.9"/>
<rect x="389.86" y="437.31" width="2.2" height="2.2" fill="#26395f" opacity="0.9"/>
<rect x="393.95" y="443.90" width="2.2" height="2.2" fill="#26395f" opacity="0.9"/>
<rect x="398.04" y="452.13" width="2.2" height="2.2" fill="#26395f" opacity="0.9"/>
<rect x="402.13" y="458.31" width="2.2" height="2.2" fill="#26395f" opacity="0.9"/>
<rect x="406.23" y="461.60" width="2.2" height="2.2" fill="#26395f" opacity="0.9"/>
<rect x="414.41" y="464.48" width="2.2" height="2.2" fill="#26395f" opacity="0.9"/>
<rect x="422.59" y="463.87" width="2.2" height="2.2" fill="#26395f" opacity="0.9"/>
<rect x="438.95" y="462.84" width="2.2" height="2.2" fill="#26395f" opacity="0.9"/>
<rect x="471.68" y="465.10" width="2.2" height="2.2" fill="#26395f" opacity="0.9"/>
<rect x="504.40" y="466.95" width="2.2" height="2.2" fill="#26395f" opacity="0.9"/>
<line x1="374.60" y1="417.70" x2="374.60" y2="470.30" stroke="#111" stroke-width="1.2" stroke-linecap="butt"/>
<line x1="374.00" y1="469.70" x2="509.00" y2="469.70" stroke="#111" stroke-width="1.3" stroke-linecap="butt"/>
<line x1="371.40" y1="469.70" x2="374.60" y2="469.70" stroke="#111" stroke-width="1.1" stroke-linecap="butt"/>
<text x="0.00" y="0.00" font-size="7.6" text-anchor="end" fill="#1e1e1e" color="#1e1e1e" transform="translate(368.20 472.60) scale(1 1.150)">0</text>
<line x1="371.40" y1="461.47" x2="374.60" y2="461.47" stroke="#111" stroke-width="1.1" stroke-linecap="butt"/>
<text x="0.00" y="0.00" font-size="7.6" text-anchor="end" fill="#1e1e1e" color="#1e1e1e" transform="translate(368.20 464.37) scale(1 1.150)">0.2</text>
<line x1="371.40" y1="453.23" x2="374.60" y2="453.23" stroke="#111" stroke-width="1.1" stroke-linecap="butt"/>
<text x="0.00" y="0.00" font-size="7.6" text-anchor="end" fill="#1e1e1e" color="#1e1e1e" transform="translate(368.20 456.13) scale(1 1.150)">0.4</text>
<line x1="371.40" y1="445.00" x2="374.60" y2="445.00" stroke="#111" stroke-width="1.1" stroke-linecap="butt"/>
<text x="0.00" y="0.00" font-size="7.6" text-anchor="end" fill="#1e1e1e" color="#1e1e1e" transform="translate(368.20 447.90) scale(1 1.150)">0.6</text>
<line x1="371.40" y1="436.77" x2="374.60" y2="436.77" stroke="#111" stroke-width="1.1" stroke-linecap="butt"/>
<text x="0.00" y="0.00" font-size="7.6" text-anchor="end" fill="#1e1e1e" color="#1e1e1e" transform="translate(368.20 439.67) scale(1 1.150)">0.8</text>
<line x1="371.40" y1="428.53" x2="374.60" y2="428.53" stroke="#111" stroke-width="1.1" stroke-linecap="butt"/>
<text x="0.00" y="0.00" font-size="7.6" text-anchor="end" fill="#1e1e1e" color="#1e1e1e" transform="translate(368.20 431.43) scale(1 1.150)">1</text>
<line x1="371.40" y1="420.30" x2="374.60" y2="420.30" stroke="#111" stroke-width="1.1" stroke-linecap="butt"/>
<text x="0.00" y="0.00" font-size="7.6" text-anchor="end" fill="#1e1e1e" color="#1e1e1e" transform="translate(368.20 423.20) scale(1 1.150)">1.2</text>
<line x1="374.60" y1="469.20" x2="374.60" y2="472.30" stroke="#111" stroke-width="1.1" stroke-linecap="butt"/>
<text x="0.00" y="0.00" font-size="7.6" text-anchor="middle" fill="#1e1e1e" color="#1e1e1e" transform="translate(374.60 482.80) scale(1 1.150)">0</text>
<line x1="390.96" y1="469.20" x2="390.96" y2="472.30" stroke="#111" stroke-width="1.1" stroke-linecap="butt"/>
<text x="0.00" y="0.00" font-size="7.6" text-anchor="middle" fill="#1e1e1e" color="#1e1e1e" transform="translate(390.96 482.80) scale(1 1.150)">5</text>
<line x1="407.33" y1="469.20" x2="407.33" y2="472.30" stroke="#111" stroke-width="1.1" stroke-linecap="butt"/>
<text x="0.00" y="0.00" font-size="7.6" text-anchor="middle" fill="#1e1e1e" color="#1e1e1e" transform="translate(407.33 482.80) scale(1 1.150)">10</text>
<line x1="423.69" y1="469.20" x2="423.69" y2="472.30" stroke="#111" stroke-width="1.1" stroke-linecap="butt"/>
<text x="0.00" y="0.00" font-size="7.6" text-anchor="middle" fill="#1e1e1e" color="#1e1e1e" transform="translate(423.69 482.80) scale(1 1.150)">15</text>
<line x1="440.05" y1="469.20" x2="440.05" y2="472.30" stroke="#111" stroke-width="1.1" stroke-linecap="butt"/>
<text x="0.00" y="0.00" font-size="7.6" text-anchor="middle" fill="#1e1e1e" color="#1e1e1e" transform="translate(440.05 482.80) scale(1 1.150)">20</text>
<line x1="456.41" y1="469.20" x2="456.41" y2="472.30" stroke="#111" stroke-width="1.1" stroke-linecap="butt"/>
<text x="0.00" y="0.00" font-size="7.6" text-anchor="middle" fill="#1e1e1e" color="#1e1e1e" transform="translate(456.41 482.80) scale(1 1.150)">25</text>
<line x1="472.78" y1="469.20" x2="472.78" y2="472.30" stroke="#111" stroke-width="1.1" stroke-linecap="butt"/>
<text x="0.00" y="0.00" font-size="7.6" text-anchor="middle" fill="#1e1e1e" color="#1e1e1e" transform="translate(472.78 482.80) scale(1 1.150)">30</text>
<line x1="489.14" y1="469.20" x2="489.14" y2="472.30" stroke="#111" stroke-width="1.1" stroke-linecap="butt"/>
<text x="0.00" y="0.00" font-size="7.6" text-anchor="middle" fill="#1e1e1e" color="#1e1e1e" transform="translate(489.14 482.80) scale(1 1.150)">35</text>
<line x1="505.50" y1="469.20" x2="505.50" y2="472.30" stroke="#111" stroke-width="1.1" stroke-linecap="butt"/>
<text x="0.00" y="0.00" font-size="7.6" text-anchor="middle" fill="#1e1e1e" color="#1e1e1e" transform="translate(505.50 482.80) scale(1 1.150)">40</text>
<text x="0.00" y="0.00" font-size="8.75" text-anchor="middle" fill="#1e1e1e" color="#1e1e1e" transform="translate(441.50 496.00) scale(1 1.140)">Concentration (nM)</text>
<text x="0.00" y="0.00" font-size="7.55" text-anchor="middle" fill="#1e1e1e" color="#1e1e1e" transform="translate(350.90 443.40) scale(1 1.130) rotate(-90)">Relative viability</text>
<line x1="472.40" y1="423.80" x2="480.80" y2="423.80" stroke="#9a1d40" stroke-width="1.7" stroke-linecap="butt"/>
<text x="484.60" y="426.60" font-size="7.7" text-anchor="start" fill="#1e1e1e" color="#1e1e1e">TMD8</text>
<line x1="472.40" y1="433.40" x2="480.80" y2="433.40" stroke="#2f4468" stroke-width="1.7" stroke-linecap="butt"/>
<text x="484.60" y="436.20" font-size="7.7" text-anchor="start" fill="#1e1e1e" color="#1e1e1e">LY10</text>
<rect x="0.65" y="0.65" width="518.7" height="504.4" fill="none" stroke="#000" stroke-width="1.3"/>
<rect x="0" y="504.0" width="520" height="2" fill="#000"/>
</svg>
</body></html>
